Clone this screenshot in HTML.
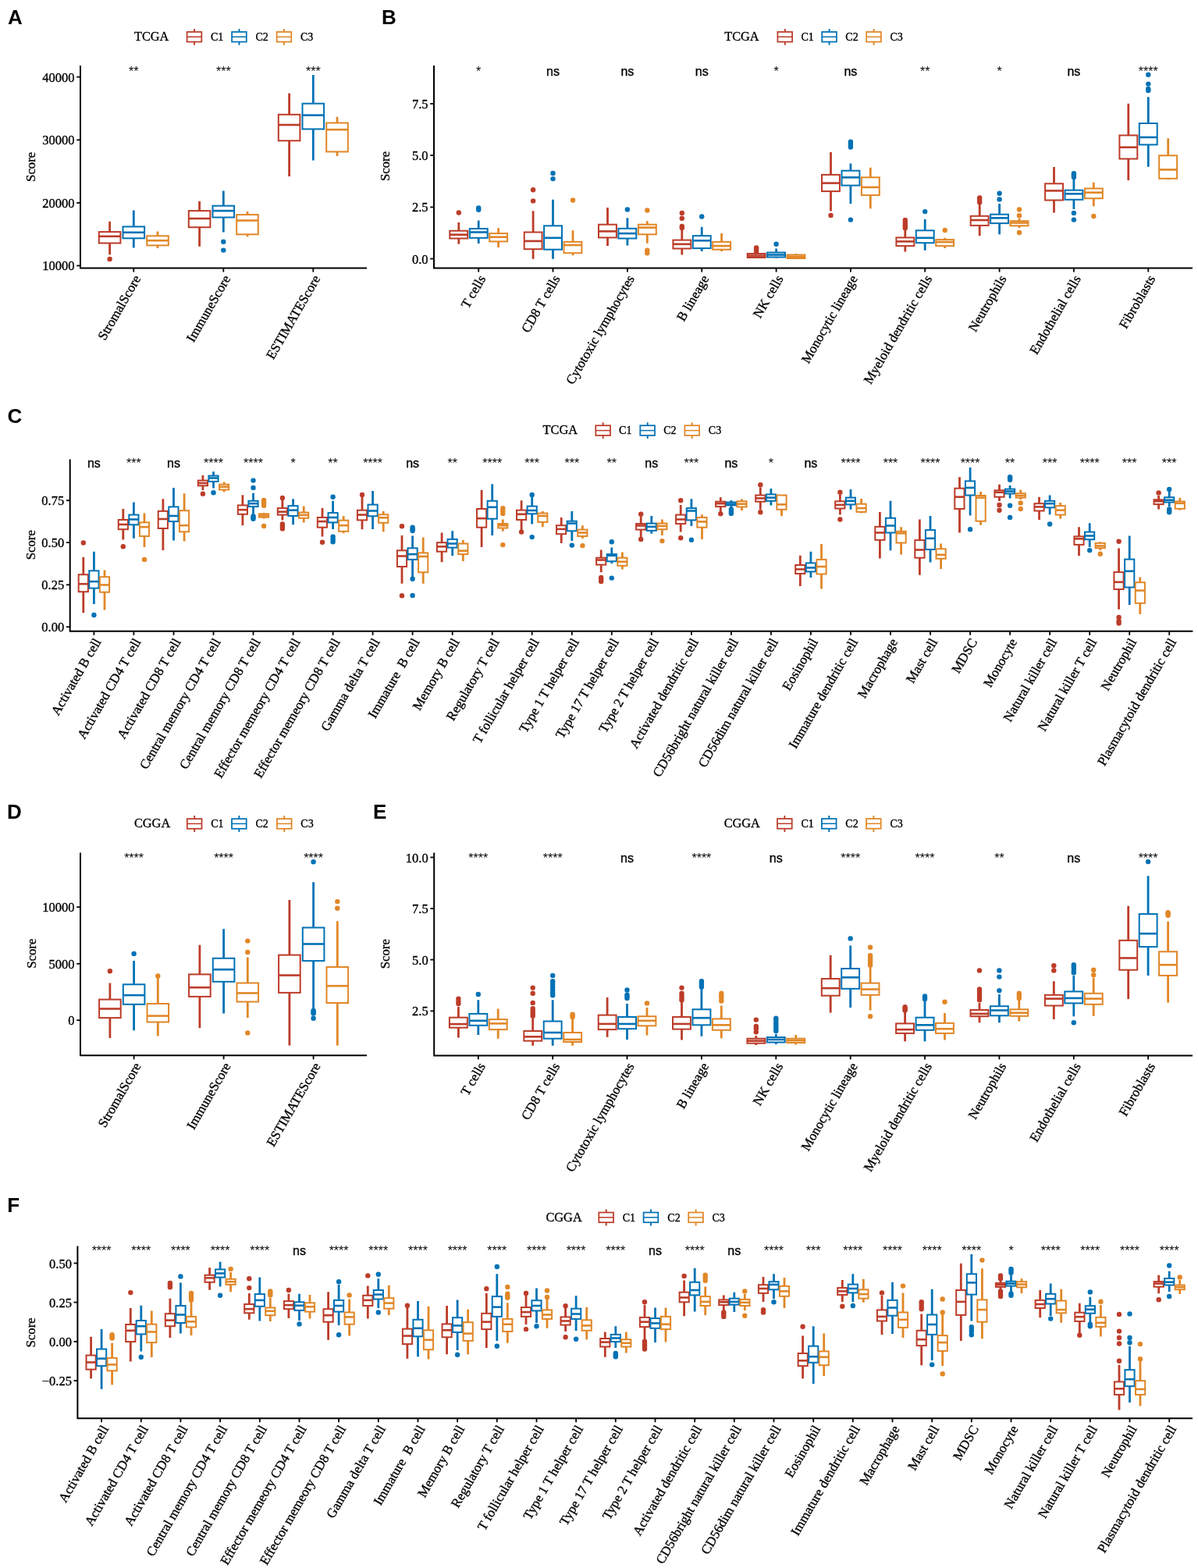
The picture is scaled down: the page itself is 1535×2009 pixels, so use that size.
<!DOCTYPE html><html><head><meta charset="utf-8"><style>html,body{margin:0;padding:0;background:#fff}svg{display:block}.k{stroke:#000;stroke-width:0.35px;paint-order:stroke}</style></head><body>
<svg width="1535" height="2009" viewBox="0 0 1535 2009">
<rect width="1535" height="2009" fill="#fff"/>
<text x="10" y="31.2" font-family="'Liberation Sans', Arial, sans-serif" font-weight="bold" font-size="26">A</text>
<text x="172" y="51.9" class="k" font-family="'Liberation Serif', 'Times New Roman', serif" font-size="16.3">TCGA</text><path d="M249 36.9V40.9M249 53.6V57.8" stroke="#BC3C29" stroke-width="1.9"/><rect x="239.6" y="40.9" width="18.7" height="12.7" stroke="#BC3C29" stroke-width="1.75" fill="#fff"/><path d="M239.6 47.2H258.3" stroke="#BC3C29" stroke-width="1.5"/><text x="270" y="51.9" class="k" font-family="'Liberation Serif', 'Times New Roman', serif" font-size="14">C1</text><path d="M306.5 36.9V40.9M306.5 53.6V57.8" stroke="#0072B5" stroke-width="1.9"/><rect x="297.1" y="40.9" width="18.7" height="12.7" stroke="#0072B5" stroke-width="1.75" fill="#fff"/><path d="M297.1 47.2H315.8" stroke="#0072B5" stroke-width="1.5"/><text x="327.5" y="51.9" class="k" font-family="'Liberation Serif', 'Times New Roman', serif" font-size="14">C2</text><path d="M364 36.9V40.9M364 53.6V57.8" stroke="#E18727" stroke-width="1.9"/><rect x="354.6" y="40.9" width="18.7" height="12.7" stroke="#E18727" stroke-width="1.75" fill="#fff"/><path d="M354.6 47.2H373.3" stroke="#E18727" stroke-width="1.5"/><text x="385" y="51.9" class="k" font-family="'Liberation Serif', 'Times New Roman', serif" font-size="14">C3</text>
<path d="M103 84V343.5H470" stroke="#000" stroke-width="2.0" fill="none"/>
<path d="M98.2 98.6H103" stroke="#000" stroke-width="1.8"/>
<text x="95.5" y="104.6" text-anchor="end" class="k" font-family="'Liberation Serif', 'Times New Roman', serif" font-size="16.5">40000</text>
<path d="M98.2 179.3H103" stroke="#000" stroke-width="1.8"/>
<text x="95.5" y="185.3" text-anchor="end" class="k" font-family="'Liberation Serif', 'Times New Roman', serif" font-size="16.5">30000</text>
<path d="M98.2 259.9H103" stroke="#000" stroke-width="1.8"/>
<text x="95.5" y="265.9" text-anchor="end" class="k" font-family="'Liberation Serif', 'Times New Roman', serif" font-size="16.5">20000</text>
<path d="M98.2 340.4H103" stroke="#000" stroke-width="1.8"/>
<text x="95.5" y="346.4" text-anchor="end" class="k" font-family="'Liberation Serif', 'Times New Roman', serif" font-size="16.5">10000</text>
<text transform="translate(45.4 213.8) rotate(-90)" text-anchor="middle" class="k" font-family="'Liberation Serif', 'Times New Roman', serif" font-size="16.8">Score</text>
<path d="M171.3 343.5V348.5" stroke="#000" stroke-width="1.8"/>
<text transform="translate(180.8 356.8) rotate(-60)" text-anchor="end" class="k" font-family="'Liberation Serif', 'Times New Roman', serif" font-size="17">StromalScore</text>
<text x="171.3" y="97" text-anchor="middle" font-family="'Liberation Sans', Arial, sans-serif" font-size="16">**</text>
<path d="M140.6 283.7V297.1M140.6 311.5V326.3" stroke="#BC3C29" stroke-width="2.8" fill="none"/><rect x="126.8" y="297.1" width="27.6" height="14.4" stroke="#BC3C29" stroke-width="2.0" fill="#fff"/><path d="M126.8 302.8H154.4" stroke="#BC3C29" stroke-width="2.6"/><circle cx="140.6" cy="332" r="3.2" fill="#BC3C29"/>
<path d="M171.3 269.4V290.4M171.3 305.3V317.6" stroke="#0072B5" stroke-width="2.8" fill="none"/><rect x="157.5" y="290.4" width="27.6" height="14.9" stroke="#0072B5" stroke-width="2.0" fill="#fff"/><path d="M157.5 297.8H185.1" stroke="#0072B5" stroke-width="2.6"/>
<path d="M202 296.6V302.3M202 314.4V318.1" stroke="#E18727" stroke-width="2.8" fill="none"/><rect x="188.2" y="302.3" width="27.6" height="12.1" stroke="#E18727" stroke-width="2.0" fill="#fff"/><path d="M188.2 308.2H215.8" stroke="#E18727" stroke-width="2.6"/>
<path d="M286.3 343.5V348.5" stroke="#000" stroke-width="1.8"/>
<text transform="translate(295.8 356.8) rotate(-60)" text-anchor="end" class="k" font-family="'Liberation Serif', 'Times New Roman', serif" font-size="17">ImmuneScore</text>
<text x="286.3" y="97" text-anchor="middle" font-family="'Liberation Sans', Arial, sans-serif" font-size="16">***</text>
<path d="M255.6 257.7V270.1M255.6 291.2V315.7" stroke="#BC3C29" stroke-width="2.8" fill="none"/><rect x="241.8" y="270.1" width="27.6" height="21.1" stroke="#BC3C29" stroke-width="2.0" fill="#fff"/><path d="M241.8 280H269.4" stroke="#BC3C29" stroke-width="2.6"/>
<path d="M286.3 244.6V263.7M286.3 278.5V297.4" stroke="#0072B5" stroke-width="2.8" fill="none"/><rect x="272.5" y="263.7" width="27.6" height="14.8" stroke="#0072B5" stroke-width="2.0" fill="#fff"/><path d="M272.5 270.1H300.1" stroke="#0072B5" stroke-width="2.6"/><circle cx="286.3" cy="309.7" r="3.2" fill="#0072B5"/><circle cx="286.3" cy="320.6" r="3.2" fill="#0072B5"/>
<path d="M317 271.1V275.1M317 300.3V303.3" stroke="#E18727" stroke-width="2.8" fill="none"/><rect x="303.2" y="275.1" width="27.6" height="25.2" stroke="#E18727" stroke-width="2.0" fill="#fff"/><path d="M303.2 282.5H330.8" stroke="#E18727" stroke-width="2.6"/>
<path d="M401.3 343.5V348.5" stroke="#000" stroke-width="1.8"/>
<text transform="translate(410.8 356.8) rotate(-60)" text-anchor="end" class="k" font-family="'Liberation Serif', 'Times New Roman', serif" font-size="17">ESTIMATEScore</text>
<text x="401.3" y="97" text-anchor="middle" font-family="'Liberation Sans', Arial, sans-serif" font-size="16">***</text>
<path d="M370.6 119.6V146.8M370.6 180.3V226.1" stroke="#BC3C29" stroke-width="2.8" fill="none"/><rect x="356.8" y="146.8" width="27.6" height="33.5" stroke="#BC3C29" stroke-width="2.0" fill="#fff"/><path d="M356.8 160H384.4" stroke="#BC3C29" stroke-width="2.6"/>
<path d="M401.3 96.1V132.7M401.3 165.4V205.5" stroke="#0072B5" stroke-width="2.8" fill="none"/><rect x="387.5" y="132.7" width="27.6" height="32.7" stroke="#0072B5" stroke-width="2.0" fill="#fff"/><path d="M387.5 147.6H415.1" stroke="#0072B5" stroke-width="2.6"/>
<path d="M432 149.8V157.5M432 194.4V200" stroke="#E18727" stroke-width="2.8" fill="none"/><rect x="418.2" y="157.5" width="27.6" height="36.9" stroke="#E18727" stroke-width="2.0" fill="#fff"/><path d="M418.2 166.1H445.8" stroke="#E18727" stroke-width="2.6"/>
<text x="489" y="31.2" font-family="'Liberation Sans', Arial, sans-serif" font-weight="bold" font-size="26">B</text>
<text x="928.3" y="51.9" class="k" font-family="'Liberation Serif', 'Times New Roman', serif" font-size="16.3">TCGA</text><path d="M1005.8 36.9V40.9M1005.8 53.6V57.8" stroke="#BC3C29" stroke-width="1.9"/><rect x="996.4" y="40.9" width="18.7" height="12.7" stroke="#BC3C29" stroke-width="1.75" fill="#fff"/><path d="M996.4 47.2H1015.0999999999999" stroke="#BC3C29" stroke-width="1.5"/><text x="1026.4" y="51.9" class="k" font-family="'Liberation Serif', 'Times New Roman', serif" font-size="14">C1</text><path d="M1062.6 36.9V40.9M1062.6 53.6V57.8" stroke="#0072B5" stroke-width="1.9"/><rect x="1053.1999999999998" y="40.9" width="18.7" height="12.7" stroke="#0072B5" stroke-width="1.75" fill="#fff"/><path d="M1053.1999999999998 47.2H1071.8999999999999" stroke="#0072B5" stroke-width="1.5"/><text x="1083.3" y="51.9" class="k" font-family="'Liberation Serif', 'Times New Roman', serif" font-size="14">C2</text><path d="M1119.6 36.9V40.9M1119.6 53.6V57.8" stroke="#E18727" stroke-width="1.9"/><rect x="1110.1999999999998" y="40.9" width="18.7" height="12.7" stroke="#E18727" stroke-width="1.75" fill="#fff"/><path d="M1110.1999999999998 47.2H1128.8999999999999" stroke="#E18727" stroke-width="1.5"/><text x="1140.4" y="51.9" class="k" font-family="'Liberation Serif', 'Times New Roman', serif" font-size="14">C3</text>
<path d="M556 84V343.5H1528" stroke="#000" stroke-width="2.0" fill="none"/>
<path d="M551.2 132.9H556" stroke="#000" stroke-width="1.8"/>
<text x="548.5" y="138.9" text-anchor="end" class="k" font-family="'Liberation Serif', 'Times New Roman', serif" font-size="16.5">7.5</text>
<path d="M551.2 199H556" stroke="#000" stroke-width="1.8"/>
<text x="548.5" y="205" text-anchor="end" class="k" font-family="'Liberation Serif', 'Times New Roman', serif" font-size="16.5">5.0</text>
<path d="M551.2 265.4H556" stroke="#000" stroke-width="1.8"/>
<text x="548.5" y="271.4" text-anchor="end" class="k" font-family="'Liberation Serif', 'Times New Roman', serif" font-size="16.5">2.5</text>
<path d="M551.2 331.5H556" stroke="#000" stroke-width="1.8"/>
<text x="548.5" y="337.5" text-anchor="end" class="k" font-family="'Liberation Serif', 'Times New Roman', serif" font-size="16.5">0.0</text>
<text transform="translate(498.8 213) rotate(-90)" text-anchor="middle" class="k" font-family="'Liberation Serif', 'Times New Roman', serif" font-size="16.8">Score</text>
<path d="M613.2 343.5V348.5" stroke="#000" stroke-width="1.8"/>
<text transform="translate(622.7 356.8) rotate(-60)" text-anchor="end" class="k" font-family="'Liberation Serif', 'Times New Roman', serif" font-size="17">T cells</text>
<text x="613.2" y="96.5" text-anchor="middle" font-family="'Liberation Sans', Arial, sans-serif" font-size="16">*</text>
<path d="M587.8 285V295.7M587.8 305.5V312.8" stroke="#BC3C29" stroke-width="2.8" fill="none"/><rect x="576.3" y="295.7" width="22.9" height="9.8" stroke="#BC3C29" stroke-width="2.0" fill="#fff"/><path d="M576.3 300.7H599.2" stroke="#BC3C29" stroke-width="2.6"/><circle cx="587.8" cy="272.5" r="3.2" fill="#BC3C29"/>
<path d="M613.2 282.5V293M613.2 304.8V312" stroke="#0072B5" stroke-width="2.8" fill="none"/><rect x="601.8" y="293" width="22.9" height="11.8" stroke="#0072B5" stroke-width="2.0" fill="#fff"/><path d="M601.8 297.5H624.6" stroke="#0072B5" stroke-width="2.6"/><circle cx="613.2" cy="266.5" r="3.2" fill="#0072B5"/><circle cx="613.2" cy="268.8" r="3.2" fill="#0072B5"/>
<path d="M638.6 292.3V299.1M638.6 309.4V317" stroke="#E18727" stroke-width="2.8" fill="none"/><rect x="627.2" y="299.1" width="22.9" height="10.3" stroke="#E18727" stroke-width="2.0" fill="#fff"/><path d="M627.2 303.7H650.1" stroke="#E18727" stroke-width="2.6"/>
<path d="M708.5 343.5V348.5" stroke="#000" stroke-width="1.8"/>
<text transform="translate(718 356.8) rotate(-60)" text-anchor="end" class="k" font-family="'Liberation Serif', 'Times New Roman', serif" font-size="17">CD8 T cells</text>
<text class="k" x="708.5" y="96.5" text-anchor="middle" font-family="'Liberation Sans', Arial, sans-serif" font-size="16">ns</text>
<path d="M683.1 270.2V297.5M683.1 319.2V331.7" stroke="#BC3C29" stroke-width="2.8" fill="none"/><rect x="671.7" y="297.5" width="22.9" height="21.7" stroke="#BC3C29" stroke-width="2.0" fill="#fff"/><path d="M671.7 308.9H694.6" stroke="#BC3C29" stroke-width="2.6"/><circle cx="683.1" cy="243.3" r="3.2" fill="#BC3C29"/><circle cx="683.1" cy="257.4" r="3.2" fill="#BC3C29"/>
<path d="M708.5 255.8V289.3M708.5 319.7V331.7" stroke="#0072B5" stroke-width="2.8" fill="none"/><rect x="697.1" y="289.3" width="22.9" height="30.4" stroke="#0072B5" stroke-width="2.0" fill="#fff"/><path d="M697.1 304.8H720" stroke="#0072B5" stroke-width="2.6"/><circle cx="708.5" cy="222" r="3.2" fill="#0072B5"/><circle cx="708.5" cy="229.1" r="3.2" fill="#0072B5"/>
<path d="M734 295.3V309.9M734 324.2V327.2" stroke="#E18727" stroke-width="2.8" fill="none"/><rect x="722.5" y="309.9" width="22.9" height="14.3" stroke="#E18727" stroke-width="2.0" fill="#fff"/><path d="M722.5 314H745.4" stroke="#E18727" stroke-width="2.6"/><circle cx="734" cy="256.5" r="3.2" fill="#E18727"/>
<path d="M803.9 343.5V348.5" stroke="#000" stroke-width="1.8"/>
<text transform="translate(813.4 356.8) rotate(-60)" text-anchor="end" class="k" font-family="'Liberation Serif', 'Times New Roman', serif" font-size="17">Cytotoxic lymphocytes</text>
<text class="k" x="803.9" y="96.5" text-anchor="middle" font-family="'Liberation Sans', Arial, sans-serif" font-size="16">ns</text>
<path d="M778.5 266.1V287.7M778.5 304.4V315.1" stroke="#BC3C29" stroke-width="2.8" fill="none"/><rect x="767" y="287.7" width="22.9" height="16.7" stroke="#BC3C29" stroke-width="2.0" fill="#fff"/><path d="M767 296.4H789.9" stroke="#BC3C29" stroke-width="2.6"/>
<path d="M803.9 279.3V292.8M803.9 305.5V314.4" stroke="#0072B5" stroke-width="2.8" fill="none"/><rect x="792.4" y="292.8" width="22.9" height="12.7" stroke="#0072B5" stroke-width="2.0" fill="#fff"/><path d="M792.4 299.1H815.3" stroke="#0072B5" stroke-width="2.6"/><circle cx="803.9" cy="268.4" r="3.2" fill="#0072B5"/>
<path d="M829.3 283.2V287.7M829.3 300.3V311.7" stroke="#E18727" stroke-width="2.8" fill="none"/><rect x="817.9" y="287.7" width="22.9" height="12.6" stroke="#E18727" stroke-width="2.0" fill="#fff"/><path d="M817.9 291.6H840.7" stroke="#E18727" stroke-width="2.6"/><circle cx="829.3" cy="269.5" r="3.2" fill="#E18727"/><circle cx="829.3" cy="320.8" r="3.2" fill="#E18727"/><circle cx="829.3" cy="324.2" r="3.2" fill="#E18727"/>
<path d="M899.2 343.5V348.5" stroke="#000" stroke-width="1.8"/>
<text transform="translate(908.7 356.8) rotate(-60)" text-anchor="end" class="k" font-family="'Liberation Serif', 'Times New Roman', serif" font-size="17">B lineage</text>
<text class="k" x="899.2" y="96.5" text-anchor="middle" font-family="'Liberation Sans', Arial, sans-serif" font-size="16">ns</text>
<path d="M873.8 294.6V307.6M873.8 318.5V326.5" stroke="#BC3C29" stroke-width="2.8" fill="none"/><rect x="862.4" y="307.6" width="22.9" height="10.9" stroke="#BC3C29" stroke-width="2.0" fill="#fff"/><path d="M862.4 312.8H885.2" stroke="#BC3C29" stroke-width="2.6"/><circle cx="873.8" cy="272.9" r="3.2" fill="#BC3C29"/><circle cx="873.8" cy="279.8" r="3.2" fill="#BC3C29"/><circle cx="873.8" cy="290" r="3.2" fill="#BC3C29"/><circle cx="873.8" cy="292" r="3.2" fill="#BC3C29"/>
<path d="M899.2 290.7V302.1M899.2 318.1V322" stroke="#0072B5" stroke-width="2.8" fill="none"/><rect x="887.8" y="302.1" width="22.9" height="16" stroke="#0072B5" stroke-width="2.0" fill="#fff"/><path d="M887.8 308.3H910.7" stroke="#0072B5" stroke-width="2.6"/><circle cx="899.2" cy="277.5" r="3.2" fill="#0072B5"/>
<path d="M924.6 299.1V309.9M924.6 319.7V322" stroke="#E18727" stroke-width="2.8" fill="none"/><rect x="913.2" y="309.9" width="22.9" height="9.8" stroke="#E18727" stroke-width="2.0" fill="#fff"/><path d="M913.2 315.1H936.1" stroke="#E18727" stroke-width="2.6"/>
<path d="M994.6 343.5V348.5" stroke="#000" stroke-width="1.8"/>
<text transform="translate(1004.1 356.8) rotate(-60)" text-anchor="end" class="k" font-family="'Liberation Serif', 'Times New Roman', serif" font-size="17">NK cells</text>
<text x="994.6" y="96.5" text-anchor="middle" font-family="'Liberation Sans', Arial, sans-serif" font-size="16">*</text>
<path d="M969.1 323.5V325M969.1 330V331" stroke="#BC3C29" stroke-width="2.8" fill="none"/><rect x="957.7" y="325" width="22.9" height="5" stroke="#BC3C29" stroke-width="2.0" fill="#fff"/><path d="M957.7 327.6H980.6" stroke="#BC3C29" stroke-width="2.6"/><circle cx="969.1" cy="317.4" r="3.2" fill="#BC3C29"/><circle cx="969.1" cy="319.5" r="3.2" fill="#BC3C29"/><circle cx="969.1" cy="322" r="3.2" fill="#BC3C29"/>
<path d="M994.6 318.5V323.5M994.6 329.5V330.5" stroke="#0072B5" stroke-width="2.8" fill="none"/><rect x="983.1" y="323.5" width="22.9" height="6" stroke="#0072B5" stroke-width="2.0" fill="#fff"/><path d="M983.1 326.5H1006" stroke="#0072B5" stroke-width="2.6"/><circle cx="994.6" cy="312.8" r="3.2" fill="#0072B5"/>
<path d="M1020 324.9V326.5M1020 331V331.5" stroke="#E18727" stroke-width="2.8" fill="none"/><rect x="1008.5" y="326.5" width="22.9" height="4.5" stroke="#E18727" stroke-width="2.0" fill="#fff"/><path d="M1008.5 328.8H1031.4" stroke="#E18727" stroke-width="2.6"/>
<path d="M1089.9 343.5V348.5" stroke="#000" stroke-width="1.8"/>
<text transform="translate(1099.4 356.8) rotate(-60)" text-anchor="end" class="k" font-family="'Liberation Serif', 'Times New Roman', serif" font-size="17">Monocytic lineage</text>
<text class="k" x="1089.9" y="96.5" text-anchor="middle" font-family="'Liberation Sans', Arial, sans-serif" font-size="16">ns</text>
<path d="M1064.5 194.9V223.9M1064.5 245.1V270.6" stroke="#BC3C29" stroke-width="2.8" fill="none"/><rect x="1053" y="223.9" width="22.9" height="21.2" stroke="#BC3C29" stroke-width="2.0" fill="#fff"/><path d="M1053 234.6H1075.9" stroke="#BC3C29" stroke-width="2.6"/><circle cx="1064.5" cy="275.9" r="3.2" fill="#BC3C29"/>
<path d="M1089.9 209.5V218.7M1089.9 237.6V261.1" stroke="#0072B5" stroke-width="2.8" fill="none"/><rect x="1078.5" y="218.7" width="22.9" height="18.9" stroke="#0072B5" stroke-width="2.0" fill="#fff"/><path d="M1078.5 227.3H1101.3" stroke="#0072B5" stroke-width="2.6"/><circle cx="1089.9" cy="181.7" r="3.2" fill="#0072B5"/><circle cx="1089.9" cy="184" r="3.2" fill="#0072B5"/><circle cx="1089.9" cy="186" r="3.2" fill="#0072B5"/><circle cx="1089.9" cy="188.6" r="3.2" fill="#0072B5"/><circle cx="1089.9" cy="281.6" r="3.2" fill="#0072B5"/>
<path d="M1115.3 214.8V227.3M1115.3 250.1V267.2" stroke="#E18727" stroke-width="2.8" fill="none"/><rect x="1103.9" y="227.3" width="22.9" height="22.8" stroke="#E18727" stroke-width="2.0" fill="#fff"/><path d="M1103.9 239.9H1126.8" stroke="#E18727" stroke-width="2.6"/>
<path d="M1185.2 343.5V348.5" stroke="#000" stroke-width="1.8"/>
<text transform="translate(1194.7 356.8) rotate(-60)" text-anchor="end" class="k" font-family="'Liberation Serif', 'Times New Roman', serif" font-size="17">Myeloid dendritic cells</text>
<text x="1185.2" y="96.5" text-anchor="middle" font-family="'Liberation Sans', Arial, sans-serif" font-size="16">**</text>
<path d="M1159.8 294V304.4M1159.8 315.1V322.6" stroke="#BC3C29" stroke-width="2.8" fill="none"/><rect x="1148.4" y="304.4" width="22.9" height="10.7" stroke="#BC3C29" stroke-width="2.0" fill="#fff"/><path d="M1148.4 309.4H1171.3" stroke="#BC3C29" stroke-width="2.6"/><circle cx="1159.8" cy="282" r="3.2" fill="#BC3C29"/><circle cx="1159.8" cy="285" r="3.2" fill="#BC3C29"/><circle cx="1159.8" cy="288" r="3.2" fill="#BC3C29"/><circle cx="1159.8" cy="290" r="3.2" fill="#BC3C29"/><circle cx="1159.8" cy="292.3" r="3.2" fill="#BC3C29"/>
<path d="M1185.2 280.9V295.3M1185.2 311.2V320.8" stroke="#0072B5" stroke-width="2.8" fill="none"/><rect x="1173.8" y="295.3" width="22.9" height="15.9" stroke="#0072B5" stroke-width="2.0" fill="#fff"/><path d="M1173.8 304.8H1196.7" stroke="#0072B5" stroke-width="2.6"/><circle cx="1185.2" cy="271.1" r="3.2" fill="#0072B5"/>
<path d="M1210.7 304.8V307.1M1210.7 315.1V318" stroke="#E18727" stroke-width="2.8" fill="none"/><rect x="1199.2" y="307.1" width="22.9" height="8" stroke="#E18727" stroke-width="2.0" fill="#fff"/><path d="M1199.2 310.1H1222.1" stroke="#E18727" stroke-width="2.6"/><circle cx="1210.7" cy="295" r="3.2" fill="#E18727"/>
<path d="M1280.6 343.5V348.5" stroke="#000" stroke-width="1.8"/>
<text transform="translate(1290.1 356.8) rotate(-60)" text-anchor="end" class="k" font-family="'Liberation Serif', 'Times New Roman', serif" font-size="17">Neutrophils</text>
<text x="1280.6" y="96.5" text-anchor="middle" font-family="'Liberation Sans', Arial, sans-serif" font-size="16">*</text>
<path d="M1255.2 261.5V276.8M1255.2 288.9V302.1" stroke="#BC3C29" stroke-width="2.8" fill="none"/><rect x="1243.7" y="276.8" width="22.9" height="12.1" stroke="#BC3C29" stroke-width="2.0" fill="#fff"/><path d="M1243.7 282H1266.6" stroke="#BC3C29" stroke-width="2.6"/><circle cx="1255.2" cy="253.5" r="3.2" fill="#BC3C29"/><circle cx="1255.2" cy="256" r="3.2" fill="#BC3C29"/><circle cx="1255.2" cy="259.2" r="3.2" fill="#BC3C29"/>
<path d="M1280.6 261.1V274.7M1280.6 286.1V300.3" stroke="#0072B5" stroke-width="2.8" fill="none"/><rect x="1269.1" y="274.7" width="22.9" height="11.4" stroke="#0072B5" stroke-width="2.0" fill="#fff"/><path d="M1269.1 279.3H1292" stroke="#0072B5" stroke-width="2.6"/><circle cx="1280.6" cy="247.8" r="3.2" fill="#0072B5"/><circle cx="1280.6" cy="255.4" r="3.2" fill="#0072B5"/>
<path d="M1306 280V283.2M1306 289.3V292" stroke="#E18727" stroke-width="2.8" fill="none"/><rect x="1294.6" y="283.2" width="22.9" height="6.1" stroke="#E18727" stroke-width="2.0" fill="#fff"/><path d="M1294.6 285.5H1317.4" stroke="#E18727" stroke-width="2.6"/><circle cx="1306" cy="268.4" r="3.2" fill="#E18727"/><circle cx="1306" cy="276.3" r="3.2" fill="#E18727"/><circle cx="1306" cy="298" r="3.2" fill="#E18727"/>
<path d="M1375.9 343.5V348.5" stroke="#000" stroke-width="1.8"/>
<text transform="translate(1385.4 356.8) rotate(-60)" text-anchor="end" class="k" font-family="'Liberation Serif', 'Times New Roman', serif" font-size="17">Endothelial cells</text>
<text class="k" x="1375.9" y="96.5" text-anchor="middle" font-family="'Liberation Sans', Arial, sans-serif" font-size="16">ns</text>
<path d="M1350.5 214.1V235.3M1350.5 256.5V272.5" stroke="#BC3C29" stroke-width="2.8" fill="none"/><rect x="1339.1" y="235.3" width="22.9" height="21.2" stroke="#BC3C29" stroke-width="2.0" fill="#fff"/><path d="M1339.1 244.4H1361.9" stroke="#BC3C29" stroke-width="2.6"/>
<path d="M1375.9 230V243.7M1375.9 255.8V268" stroke="#0072B5" stroke-width="2.8" fill="none"/><rect x="1364.5" y="243.7" width="22.9" height="12.1" stroke="#0072B5" stroke-width="2.0" fill="#fff"/><path d="M1364.5 248.3H1387.4" stroke="#0072B5" stroke-width="2.6"/><circle cx="1375.9" cy="222.3" r="3.2" fill="#0072B5"/><circle cx="1375.9" cy="224.5" r="3.2" fill="#0072B5"/><circle cx="1375.9" cy="226.9" r="3.2" fill="#0072B5"/><circle cx="1375.9" cy="272.9" r="3.2" fill="#0072B5"/><circle cx="1375.9" cy="281.6" r="3.2" fill="#0072B5"/>
<path d="M1401.3 233.7V241.5M1401.3 254.2V264.3" stroke="#E18727" stroke-width="2.8" fill="none"/><rect x="1389.9" y="241.5" width="22.9" height="12.7" stroke="#E18727" stroke-width="2.0" fill="#fff"/><path d="M1389.9 246.7H1412.8" stroke="#E18727" stroke-width="2.6"/><circle cx="1401.3" cy="277" r="3.2" fill="#E18727"/>
<path d="M1471.3 343.5V348.5" stroke="#000" stroke-width="1.8"/>
<text transform="translate(1480.8 356.8) rotate(-60)" text-anchor="end" class="k" font-family="'Liberation Serif', 'Times New Roman', serif" font-size="17">Fibroblasts</text>
<text x="1471.3" y="96.5" text-anchor="middle" font-family="'Liberation Sans', Arial, sans-serif" font-size="16">****</text>
<path d="M1445.8 132.7V173.4M1445.8 203.5V230.9" stroke="#BC3C29" stroke-width="2.8" fill="none"/><rect x="1434.4" y="173.4" width="22.9" height="30.1" stroke="#BC3C29" stroke-width="2.0" fill="#fff"/><path d="M1434.4 188.7H1457.3" stroke="#BC3C29" stroke-width="2.6"/>
<path d="M1471.3 124.3V158M1471.3 185.4V213.8" stroke="#0072B5" stroke-width="2.8" fill="none"/><rect x="1459.8" y="158" width="22.9" height="27.4" stroke="#0072B5" stroke-width="2.0" fill="#fff"/><path d="M1459.8 175.9H1482.7" stroke="#0072B5" stroke-width="2.6"/><circle cx="1471.3" cy="95.8" r="3.2" fill="#0072B5"/><circle cx="1471.3" cy="107.6" r="3.2" fill="#0072B5"/><circle cx="1471.3" cy="114" r="3.2" fill="#0072B5"/><circle cx="1471.3" cy="116" r="3.2" fill="#0072B5"/>
<path d="M1496.7 177.3V199.3M1496.7 228.8V230.2" stroke="#E18727" stroke-width="2.8" fill="none"/><rect x="1485.2" y="199.3" width="22.9" height="29.5" stroke="#E18727" stroke-width="2.0" fill="#fff"/><path d="M1485.2 217.4H1508.1" stroke="#E18727" stroke-width="2.6"/>
<text x="9.6" y="541.5" font-family="'Liberation Sans', Arial, sans-serif" font-weight="bold" font-size="26">C</text>
<text x="695.6" y="556.2" class="k" font-family="'Liberation Serif', 'Times New Roman', serif" font-size="16.3">TCGA</text><path d="M772.7 541.2V545.2M772.7 557.9V562.1" stroke="#BC3C29" stroke-width="1.9"/><rect x="763.3000000000001" y="545.2" width="18.7" height="12.7" stroke="#BC3C29" stroke-width="1.75" fill="#fff"/><path d="M763.3000000000001 551.6H782.0" stroke="#BC3C29" stroke-width="1.5"/><text x="793.1" y="556.2" class="k" font-family="'Liberation Serif', 'Times New Roman', serif" font-size="14">C1</text><path d="M829.7 541.2V545.2M829.7 557.9V562.1" stroke="#0072B5" stroke-width="1.9"/><rect x="820.3000000000001" y="545.2" width="18.7" height="12.7" stroke="#0072B5" stroke-width="1.75" fill="#fff"/><path d="M820.3000000000001 551.6H839.0" stroke="#0072B5" stroke-width="1.5"/><text x="850.2" y="556.2" class="k" font-family="'Liberation Serif', 'Times New Roman', serif" font-size="14">C2</text><path d="M886.8 541.2V545.2M886.8 557.9V562.1" stroke="#E18727" stroke-width="1.9"/><rect x="877.4" y="545.2" width="18.7" height="12.7" stroke="#E18727" stroke-width="1.75" fill="#fff"/><path d="M877.4 551.6H896.0999999999999" stroke="#E18727" stroke-width="1.5"/><text x="907.8" y="556.2" class="k" font-family="'Liberation Serif', 'Times New Roman', serif" font-size="14">C3</text>
<path d="M89.7 588.4V808.8H1528.4" stroke="#000" stroke-width="2.0" fill="none"/>
<path d="M84.9 641.2H89.7" stroke="#000" stroke-width="1.8"/>
<text x="82.2" y="647.2" text-anchor="end" class="k" font-family="'Liberation Serif', 'Times New Roman', serif" font-size="16.5">0.75</text>
<path d="M84.9 695.1H89.7" stroke="#000" stroke-width="1.8"/>
<text x="82.2" y="701.1" text-anchor="end" class="k" font-family="'Liberation Serif', 'Times New Roman', serif" font-size="16.5">0.50</text>
<path d="M84.9 749.3H89.7" stroke="#000" stroke-width="1.8"/>
<text x="82.2" y="755.3" text-anchor="end" class="k" font-family="'Liberation Serif', 'Times New Roman', serif" font-size="16.5">0.25</text>
<path d="M84.9 803.2H89.7" stroke="#000" stroke-width="1.8"/>
<text x="82.2" y="809.2" text-anchor="end" class="k" font-family="'Liberation Serif', 'Times New Roman', serif" font-size="16.5">0.00</text>
<text transform="translate(45.1 698.2) rotate(-90)" text-anchor="middle" class="k" font-family="'Liberation Serif', 'Times New Roman', serif" font-size="16.8">Score</text>
<path d="M120.4 808.8V813.8" stroke="#000" stroke-width="1.8"/>
<text transform="translate(129.9 822.1) rotate(-60)" text-anchor="end" class="k" font-family="'Liberation Serif', 'Times New Roman', serif" font-size="17">Activated B cell</text>
<text class="k" x="120.4" y="599.3" text-anchor="middle" font-family="'Liberation Sans', Arial, sans-serif" font-size="16">ns</text>
<path d="M106.8 713.8V736.2M106.8 758.2V785.3" stroke="#BC3C29" stroke-width="2.8" fill="none"/><rect x="100.7" y="736.2" width="12.2" height="22" stroke="#BC3C29" stroke-width="2.0" fill="#fff"/><path d="M100.7 748.2H112.9" stroke="#BC3C29" stroke-width="2.6"/><circle cx="106.8" cy="695.5" r="3.2" fill="#BC3C29"/>
<path d="M120.4 706.7V731.3M120.4 753.6V773.9" stroke="#0072B5" stroke-width="2.8" fill="none"/><rect x="114.3" y="731.3" width="12.2" height="22.3" stroke="#0072B5" stroke-width="2.0" fill="#fff"/><path d="M114.3 745.1H126.5" stroke="#0072B5" stroke-width="2.6"/><circle cx="120.4" cy="788" r="3.2" fill="#0072B5"/>
<path d="M134 730.4V739.2M134 758.7V781.6" stroke="#E18727" stroke-width="2.8" fill="none"/><rect x="127.9" y="739.2" width="12.2" height="19.5" stroke="#E18727" stroke-width="2.0" fill="#fff"/><path d="M127.9 749.4H140.1" stroke="#E18727" stroke-width="2.6"/>
<path d="M171.4 808.8V813.8" stroke="#000" stroke-width="1.8"/>
<text transform="translate(180.9 822.1) rotate(-60)" text-anchor="end" class="k" font-family="'Liberation Serif', 'Times New Roman', serif" font-size="17">Activated CD4 T cell</text>
<text x="171.4" y="599.3" text-anchor="middle" font-family="'Liberation Sans', Arial, sans-serif" font-size="16">***</text>
<path d="M157.8 652V666M157.8 678.2V691.5" stroke="#BC3C29" stroke-width="2.8" fill="none"/><rect x="151.7" y="666" width="12.2" height="12.2" stroke="#BC3C29" stroke-width="2.0" fill="#fff"/><path d="M151.7 672H163.9" stroke="#BC3C29" stroke-width="2.6"/><circle cx="157.8" cy="700.3" r="3.2" fill="#BC3C29"/>
<path d="M171.4 643.5V659.6M171.4 672.3V689.8" stroke="#0072B5" stroke-width="2.8" fill="none"/><rect x="165.3" y="659.6" width="12.2" height="12.7" stroke="#0072B5" stroke-width="2.0" fill="#fff"/><path d="M165.3 665.5H177.6" stroke="#0072B5" stroke-width="2.6"/>
<path d="M185 657.6V669.4M185 687V701.1" stroke="#E18727" stroke-width="2.8" fill="none"/><rect x="178.9" y="669.4" width="12.2" height="17.6" stroke="#E18727" stroke-width="2.0" fill="#fff"/><path d="M178.9 675.2H191.2" stroke="#E18727" stroke-width="2.6"/><circle cx="185" cy="716.9" r="3.2" fill="#E18727"/>
<path d="M222.5 808.8V813.8" stroke="#000" stroke-width="1.8"/>
<text transform="translate(232 822.1) rotate(-60)" text-anchor="end" class="k" font-family="'Liberation Serif', 'Times New Roman', serif" font-size="17">Activated CD8 T cell</text>
<text class="k" x="222.5" y="599.3" text-anchor="middle" font-family="'Liberation Sans', Arial, sans-serif" font-size="16">ns</text>
<path d="M208.9 639.3V654.9M208.9 677V705" stroke="#BC3C29" stroke-width="2.8" fill="none"/><rect x="202.7" y="654.9" width="12.2" height="22.1" stroke="#BC3C29" stroke-width="2.0" fill="#fff"/><path d="M202.7 665H215" stroke="#BC3C29" stroke-width="2.6"/>
<path d="M222.5 624.9V649.4M222.5 668.1V692.6" stroke="#0072B5" stroke-width="2.8" fill="none"/><rect x="216.3" y="649.4" width="12.2" height="18.7" stroke="#0072B5" stroke-width="2.0" fill="#fff"/><path d="M216.3 661H228.6" stroke="#0072B5" stroke-width="2.6"/>
<path d="M236.1 632.2V654.2M236.1 681.3V693.5" stroke="#E18727" stroke-width="2.8" fill="none"/><rect x="229.9" y="654.2" width="12.2" height="27.1" stroke="#E18727" stroke-width="2.0" fill="#fff"/><path d="M229.9 673.2H242.2" stroke="#E18727" stroke-width="2.6"/>
<path d="M273.5 808.8V813.8" stroke="#000" stroke-width="1.8"/>
<text transform="translate(283 822.1) rotate(-60)" text-anchor="end" class="k" font-family="'Liberation Serif', 'Times New Roman', serif" font-size="17">Central memory CD4 T cell</text>
<text x="273.5" y="599.3" text-anchor="middle" font-family="'Liberation Sans', Arial, sans-serif" font-size="16">****</text>
<path d="M259.9 609.1V615.6M259.9 622.3V628" stroke="#BC3C29" stroke-width="2.8" fill="none"/><rect x="253.8" y="615.6" width="12.2" height="6.7" stroke="#BC3C29" stroke-width="2.0" fill="#fff"/><path d="M253.8 619H266" stroke="#BC3C29" stroke-width="2.6"/><circle cx="259.9" cy="632.8" r="3.2" fill="#BC3C29"/>
<path d="M273.5 604.2V609.6M273.5 616.9V625.4" stroke="#0072B5" stroke-width="2.8" fill="none"/><rect x="267.4" y="609.6" width="12.2" height="7.3" stroke="#0072B5" stroke-width="2.0" fill="#fff"/><path d="M267.4 612.5H279.6" stroke="#0072B5" stroke-width="2.6"/><circle cx="273.5" cy="631.2" r="3.2" fill="#0072B5"/>
<path d="M287.1 617.6V620.7M287.1 627.4V630.5" stroke="#E18727" stroke-width="2.8" fill="none"/><rect x="281" y="620.7" width="12.2" height="6.7" stroke="#E18727" stroke-width="2.0" fill="#fff"/><path d="M281 623.7H293.2" stroke="#E18727" stroke-width="2.6"/>
<path d="M324.5 808.8V813.8" stroke="#000" stroke-width="1.8"/>
<text transform="translate(334 822.1) rotate(-60)" text-anchor="end" class="k" font-family="'Liberation Serif', 'Times New Roman', serif" font-size="17">Central memory CD8 T cell</text>
<text x="324.5" y="599.3" text-anchor="middle" font-family="'Liberation Sans', Arial, sans-serif" font-size="16">****</text>
<path d="M310.9 634.2V647.4M310.9 658.8V673.2" stroke="#BC3C29" stroke-width="2.8" fill="none"/><rect x="304.8" y="647.4" width="12.2" height="11.4" stroke="#BC3C29" stroke-width="2.0" fill="#fff"/><path d="M304.8 653.2H317" stroke="#BC3C29" stroke-width="2.6"/>
<path d="M324.5 631.7V641.8M324.5 649.1V658" stroke="#0072B5" stroke-width="2.8" fill="none"/><rect x="318.4" y="641.8" width="12.2" height="7.3" stroke="#0072B5" stroke-width="2.0" fill="#fff"/><path d="M318.4 645.2H330.6" stroke="#0072B5" stroke-width="2.6"/><circle cx="324.5" cy="615.6" r="3.2" fill="#0072B5"/><circle cx="324.5" cy="624.9" r="3.2" fill="#0072B5"/><circle cx="324.5" cy="661.3" r="3.2" fill="#0072B5"/><circle cx="324.5" cy="663" r="3.2" fill="#0072B5"/><circle cx="324.5" cy="664.7" r="3.2" fill="#0072B5"/>
<path d="M338.1 657.1V658.4M338.1 662.7V664.5" stroke="#E18727" stroke-width="2.8" fill="none"/><rect x="332" y="658.4" width="12.2" height="4.3" stroke="#E18727" stroke-width="2.0" fill="#fff"/><path d="M332 660.5H344.3" stroke="#E18727" stroke-width="2.6"/><circle cx="338.1" cy="641" r="3.2" fill="#E18727"/><circle cx="338.1" cy="644.5" r="3.2" fill="#E18727"/><circle cx="338.1" cy="647.8" r="3.2" fill="#E18727"/><circle cx="338.1" cy="674" r="3.2" fill="#E18727"/>
<path d="M375.6 808.8V813.8" stroke="#000" stroke-width="1.8"/>
<text transform="translate(385.1 822.1) rotate(-60)" text-anchor="end" class="k" font-family="'Liberation Serif', 'Times New Roman', serif" font-size="17">Effector memeory CD4 T cell</text>
<text x="375.6" y="599.3" text-anchor="middle" font-family="'Liberation Sans', Arial, sans-serif" font-size="16">*</text>
<path d="M361.9 641V651.1M361.9 659.6V666.4" stroke="#BC3C29" stroke-width="2.8" fill="none"/><rect x="355.8" y="651.1" width="12.2" height="8.5" stroke="#BC3C29" stroke-width="2.0" fill="#fff"/><path d="M355.8 655.7H368.1" stroke="#BC3C29" stroke-width="2.6"/><circle cx="361.9" cy="637.9" r="3.2" fill="#BC3C29"/><circle cx="361.9" cy="671.5" r="3.2" fill="#BC3C29"/><circle cx="361.9" cy="674.5" r="3.2" fill="#BC3C29"/><circle cx="361.9" cy="677.4" r="3.2" fill="#BC3C29"/>
<path d="M375.6 639.3V648.1M375.6 661V672.3" stroke="#0072B5" stroke-width="2.8" fill="none"/><rect x="369.4" y="648.1" width="12.2" height="12.9" stroke="#0072B5" stroke-width="2.0" fill="#fff"/><path d="M369.4 653.7H381.7" stroke="#0072B5" stroke-width="2.6"/>
<path d="M389.2 648.6V656.6M389.2 663.8V669.4" stroke="#E18727" stroke-width="2.8" fill="none"/><rect x="383" y="656.6" width="12.2" height="7.2" stroke="#E18727" stroke-width="2.0" fill="#fff"/><path d="M383 659.9H395.3" stroke="#E18727" stroke-width="2.6"/>
<path d="M426.6 808.8V813.8" stroke="#000" stroke-width="1.8"/>
<text transform="translate(436.1 822.1) rotate(-60)" text-anchor="end" class="k" font-family="'Liberation Serif', 'Times New Roman', serif" font-size="17">Effector memeory CD8 T cell</text>
<text x="426.6" y="599.3" text-anchor="middle" font-family="'Liberation Sans', Arial, sans-serif" font-size="16">**</text>
<path d="M413 651.1V663M413 675.7V687.6" stroke="#BC3C29" stroke-width="2.8" fill="none"/><rect x="406.8" y="663" width="12.2" height="12.7" stroke="#BC3C29" stroke-width="2.0" fill="#fff"/><path d="M406.8 668.1H419.1" stroke="#BC3C29" stroke-width="2.6"/><circle cx="413" cy="694.8" r="3.2" fill="#BC3C29"/>
<path d="M426.6 641.8V657.1M426.6 669.4V677.9" stroke="#0072B5" stroke-width="2.8" fill="none"/><rect x="420.5" y="657.1" width="12.2" height="12.3" stroke="#0072B5" stroke-width="2.0" fill="#fff"/><path d="M420.5 663H432.7" stroke="#0072B5" stroke-width="2.6"/><circle cx="426.6" cy="636.7" r="3.2" fill="#0072B5"/><circle cx="426.6" cy="687.6" r="3.2" fill="#0072B5"/><circle cx="426.6" cy="691" r="3.2" fill="#0072B5"/><circle cx="426.6" cy="694.3" r="3.2" fill="#0072B5"/>
<path d="M440.2 661.3V666.7M440.2 680.8V683.3" stroke="#E18727" stroke-width="2.8" fill="none"/><rect x="434.1" y="666.7" width="12.2" height="14.1" stroke="#E18727" stroke-width="2.0" fill="#fff"/><path d="M434.1 673.2H446.3" stroke="#E18727" stroke-width="2.6"/>
<path d="M477.6 808.8V813.8" stroke="#000" stroke-width="1.8"/>
<text transform="translate(487.1 822.1) rotate(-60)" text-anchor="end" class="k" font-family="'Liberation Serif', 'Times New Roman', serif" font-size="17">Gamma delta T cell</text>
<text x="477.6" y="599.3" text-anchor="middle" font-family="'Liberation Sans', Arial, sans-serif" font-size="16">****</text>
<path d="M464 637V653.7M464 666.4V678.2" stroke="#BC3C29" stroke-width="2.8" fill="none"/><rect x="457.9" y="653.7" width="12.2" height="12.7" stroke="#BC3C29" stroke-width="2.0" fill="#fff"/><path d="M457.9 659.6H470.1" stroke="#BC3C29" stroke-width="2.6"/><circle cx="464" cy="633.9" r="3.2" fill="#BC3C29"/>
<path d="M477.6 629.1V646.6M477.6 661.3V677.9" stroke="#0072B5" stroke-width="2.8" fill="none"/><rect x="471.5" y="646.6" width="12.2" height="14.7" stroke="#0072B5" stroke-width="2.0" fill="#fff"/><path d="M471.5 654.5H483.7" stroke="#0072B5" stroke-width="2.6"/>
<path d="M491.2 654.9V659.3M491.2 669.8V681.3" stroke="#E18727" stroke-width="2.8" fill="none"/><rect x="485.1" y="659.3" width="12.2" height="10.5" stroke="#E18727" stroke-width="2.0" fill="#fff"/><path d="M485.1 663.3H497.3" stroke="#E18727" stroke-width="2.6"/>
<path d="M528.6 808.8V813.8" stroke="#000" stroke-width="1.8"/>
<text transform="translate(538.1 822.1) rotate(-60)" text-anchor="end" class="k" font-family="'Liberation Serif', 'Times New Roman', serif" font-size="17">Immature &#160;B cell</text>
<text class="k" x="528.6" y="599.3" text-anchor="middle" font-family="'Liberation Sans', Arial, sans-serif" font-size="16">ns</text>
<path d="M515 685.9V705.3M515 726V747.7" stroke="#BC3C29" stroke-width="2.8" fill="none"/><rect x="508.9" y="705.3" width="12.2" height="20.7" stroke="#BC3C29" stroke-width="2.0" fill="#fff"/><path d="M508.9 712.5H521.2" stroke="#BC3C29" stroke-width="2.6"/><circle cx="515" cy="674.3" r="3.2" fill="#BC3C29"/><circle cx="515" cy="763.3" r="3.2" fill="#BC3C29"/>
<path d="M528.6 686.4V702.3M528.6 716.9V740" stroke="#0072B5" stroke-width="2.8" fill="none"/><rect x="522.5" y="702.3" width="12.2" height="14.6" stroke="#0072B5" stroke-width="2.0" fill="#fff"/><path d="M522.5 710.1H534.8" stroke="#0072B5" stroke-width="2.6"/><circle cx="528.6" cy="675.7" r="3.2" fill="#0072B5"/><circle cx="528.6" cy="678" r="3.2" fill="#0072B5"/><circle cx="528.6" cy="680" r="3.2" fill="#0072B5"/><circle cx="528.6" cy="741.8" r="3.2" fill="#0072B5"/><circle cx="528.6" cy="762.9" r="3.2" fill="#0072B5"/>
<path d="M542.2 688.4V708.4M542.2 733.3V747.7" stroke="#E18727" stroke-width="2.8" fill="none"/><rect x="536.1" y="708.4" width="12.2" height="24.9" stroke="#E18727" stroke-width="2.0" fill="#fff"/><path d="M536.1 713H548.4" stroke="#E18727" stroke-width="2.6"/>
<path d="M579.7 808.8V813.8" stroke="#000" stroke-width="1.8"/>
<text transform="translate(589.2 822.1) rotate(-60)" text-anchor="end" class="k" font-family="'Liberation Serif', 'Times New Roman', serif" font-size="17">Memory B cell</text>
<text x="579.7" y="599.3" text-anchor="middle" font-family="'Liberation Sans', Arial, sans-serif" font-size="16">**</text>
<path d="M566.1 682.5V695.2M566.1 706.7V720.2" stroke="#BC3C29" stroke-width="2.8" fill="none"/><rect x="559.9" y="695.2" width="12.2" height="11.5" stroke="#BC3C29" stroke-width="2.0" fill="#fff"/><path d="M559.9 700.3H572.2" stroke="#BC3C29" stroke-width="2.6"/>
<path d="M579.7 680.3V690.9M579.7 701.6V712.1" stroke="#0072B5" stroke-width="2.8" fill="none"/><rect x="573.5" y="690.9" width="12.2" height="10.7" stroke="#0072B5" stroke-width="2.0" fill="#fff"/><path d="M573.5 696.5H585.8" stroke="#0072B5" stroke-width="2.6"/>
<path d="M593.3 692.1V696.5M593.3 710.1V718.9" stroke="#E18727" stroke-width="2.8" fill="none"/><rect x="587.2" y="696.5" width="12.2" height="13.6" stroke="#E18727" stroke-width="2.0" fill="#fff"/><path d="M587.2 705.7H599.4" stroke="#E18727" stroke-width="2.6"/>
<path d="M630.7 808.8V813.8" stroke="#000" stroke-width="1.8"/>
<text transform="translate(640.2 822.1) rotate(-60)" text-anchor="end" class="k" font-family="'Liberation Serif', 'Times New Roman', serif" font-size="17">Regulatory T cell</text>
<text x="630.7" y="599.3" text-anchor="middle" font-family="'Liberation Sans', Arial, sans-serif" font-size="16">****</text>
<path d="M617.1 627.8V652M617.1 675.7V701.1" stroke="#BC3C29" stroke-width="2.8" fill="none"/><rect x="611" y="652" width="12.2" height="23.7" stroke="#BC3C29" stroke-width="2.0" fill="#fff"/><path d="M611 664.2H623.2" stroke="#BC3C29" stroke-width="2.6"/>
<path d="M630.7 620.3V641.8M630.7 664.7V685.9" stroke="#0072B5" stroke-width="2.8" fill="none"/><rect x="624.6" y="641.8" width="12.2" height="22.9" stroke="#0072B5" stroke-width="2.0" fill="#fff"/><path d="M624.6 649.8H636.8" stroke="#0072B5" stroke-width="2.6"/>
<path d="M644.3 665.5V671.1M644.3 676.5V680.8" stroke="#E18727" stroke-width="2.8" fill="none"/><rect x="638.2" y="671.1" width="12.2" height="5.4" stroke="#E18727" stroke-width="2.0" fill="#fff"/><path d="M638.2 673.2H650.4" stroke="#E18727" stroke-width="2.6"/><circle cx="644.3" cy="651.1" r="3.2" fill="#E18727"/><circle cx="644.3" cy="654.5" r="3.2" fill="#E18727"/><circle cx="644.3" cy="657.9" r="3.2" fill="#E18727"/><circle cx="644.3" cy="698.1" r="3.2" fill="#E18727"/>
<path d="M681.7 808.8V813.8" stroke="#000" stroke-width="1.8"/>
<text transform="translate(691.2 822.1) rotate(-60)" text-anchor="end" class="k" font-family="'Liberation Serif', 'Times New Roman', serif" font-size="17">T follicular helper cell</text>
<text x="681.7" y="599.3" text-anchor="middle" font-family="'Liberation Sans', Arial, sans-serif" font-size="16">***</text>
<path d="M668.1 641.3V653.7M668.1 666V679.1" stroke="#BC3C29" stroke-width="2.8" fill="none"/><rect x="662" y="653.7" width="12.2" height="12.3" stroke="#BC3C29" stroke-width="2.0" fill="#fff"/><path d="M662 658.8H674.2" stroke="#BC3C29" stroke-width="2.6"/><circle cx="668.1" cy="681.6" r="3.2" fill="#BC3C29"/>
<path d="M681.7 637V648.6M681.7 658.3V671.5" stroke="#0072B5" stroke-width="2.8" fill="none"/><rect x="675.6" y="648.6" width="12.2" height="9.7" stroke="#0072B5" stroke-width="2.0" fill="#fff"/><path d="M675.6 654H687.9" stroke="#0072B5" stroke-width="2.6"/><circle cx="681.7" cy="633.9" r="3.2" fill="#0072B5"/><circle cx="681.7" cy="688.1" r="3.2" fill="#0072B5"/>
<path d="M695.3 655V657.6M695.3 668.9V675.2" stroke="#E18727" stroke-width="2.8" fill="none"/><rect x="689.2" y="657.6" width="12.2" height="11.3" stroke="#E18727" stroke-width="2.0" fill="#fff"/><path d="M689.2 661H701.5" stroke="#E18727" stroke-width="2.6"/>
<path d="M732.8 808.8V813.8" stroke="#000" stroke-width="1.8"/>
<text transform="translate(742.3 822.1) rotate(-60)" text-anchor="end" class="k" font-family="'Liberation Serif', 'Times New Roman', serif" font-size="17">Type 1 T helper cell</text>
<text x="732.8" y="599.3" text-anchor="middle" font-family="'Liberation Sans', Arial, sans-serif" font-size="16">***</text>
<path d="M719.2 663V673.2M719.2 684.2V696" stroke="#BC3C29" stroke-width="2.8" fill="none"/><rect x="713" y="673.2" width="12.2" height="11" stroke="#BC3C29" stroke-width="2.0" fill="#fff"/><path d="M713 677.9H725.3" stroke="#BC3C29" stroke-width="2.6"/>
<path d="M732.8 654.9V667.7M732.8 680.3V693.1" stroke="#0072B5" stroke-width="2.8" fill="none"/><rect x="726.6" y="667.7" width="12.2" height="12.6" stroke="#0072B5" stroke-width="2.0" fill="#fff"/><path d="M726.6 670.6H738.9" stroke="#0072B5" stroke-width="2.6"/><circle cx="732.8" cy="698.6" r="3.2" fill="#0072B5"/>
<path d="M746.4 673.2V678.6M746.4 687V690" stroke="#E18727" stroke-width="2.8" fill="none"/><rect x="740.2" y="678.6" width="12.2" height="8.4" stroke="#E18727" stroke-width="2.0" fill="#fff"/><path d="M740.2 682.5H752.5" stroke="#E18727" stroke-width="2.6"/><circle cx="746.4" cy="699.1" r="3.2" fill="#E18727"/>
<path d="M783.8 808.8V813.8" stroke="#000" stroke-width="1.8"/>
<text transform="translate(793.3 822.1) rotate(-60)" text-anchor="end" class="k" font-family="'Liberation Serif', 'Times New Roman', serif" font-size="17">Type 17 T helper cell</text>
<text x="783.8" y="599.3" text-anchor="middle" font-family="'Liberation Sans', Arial, sans-serif" font-size="16">**</text>
<path d="M770.2 704.5V714.7M770.2 723.6V733.3" stroke="#BC3C29" stroke-width="2.8" fill="none"/><rect x="764.1" y="714.7" width="12.2" height="8.9" stroke="#BC3C29" stroke-width="2.0" fill="#fff"/><path d="M764.1 717.5H776.3" stroke="#BC3C29" stroke-width="2.6"/><circle cx="770.2" cy="740" r="3.2" fill="#BC3C29"/><circle cx="770.2" cy="742.5" r="3.2" fill="#BC3C29"/><circle cx="770.2" cy="745.1" r="3.2" fill="#BC3C29"/>
<path d="M783.8 701.6V710.1M783.8 719.2V722" stroke="#0072B5" stroke-width="2.8" fill="none"/><rect x="777.7" y="710.1" width="12.2" height="9.1" stroke="#0072B5" stroke-width="2.0" fill="#fff"/><path d="M777.7 711.8H789.9" stroke="#0072B5" stroke-width="2.6"/><circle cx="783.8" cy="694.3" r="3.2" fill="#0072B5"/><circle cx="783.8" cy="740.6" r="3.2" fill="#0072B5"/>
<path d="M797.4 707.4V714.7M797.4 724.8V729.4" stroke="#E18727" stroke-width="2.8" fill="none"/><rect x="791.3" y="714.7" width="12.2" height="10.1" stroke="#E18727" stroke-width="2.0" fill="#fff"/><path d="M791.3 719.7H803.5" stroke="#E18727" stroke-width="2.6"/>
<path d="M834.8 808.8V813.8" stroke="#000" stroke-width="1.8"/>
<text transform="translate(844.3 822.1) rotate(-60)" text-anchor="end" class="k" font-family="'Liberation Serif', 'Times New Roman', serif" font-size="17">Type 2 T helper cell</text>
<text class="k" x="834.8" y="599.3" text-anchor="middle" font-family="'Liberation Sans', Arial, sans-serif" font-size="16">ns</text>
<path d="M821.2 662V671.1M821.2 678.6V688" stroke="#BC3C29" stroke-width="2.8" fill="none"/><rect x="815.1" y="671.1" width="12.2" height="7.5" stroke="#BC3C29" stroke-width="2.0" fill="#fff"/><path d="M815.1 673.5H827.3" stroke="#BC3C29" stroke-width="2.6"/><circle cx="821.2" cy="658.8" r="3.2" fill="#BC3C29"/><circle cx="821.2" cy="690.9" r="3.2" fill="#BC3C29"/>
<path d="M834.8 661V670.6M834.8 679.9V683.7" stroke="#0072B5" stroke-width="2.8" fill="none"/><rect x="828.7" y="670.6" width="12.2" height="9.3" stroke="#0072B5" stroke-width="2.0" fill="#fff"/><path d="M828.7 674.9H840.9" stroke="#0072B5" stroke-width="2.6"/>
<path d="M848.4 665.5V670.6M848.4 678.2V685.9" stroke="#E18727" stroke-width="2.8" fill="none"/><rect x="842.3" y="670.6" width="12.2" height="7.6" stroke="#E18727" stroke-width="2.0" fill="#fff"/><path d="M842.3 674H854.6" stroke="#E18727" stroke-width="2.6"/><circle cx="848.4" cy="693.1" r="3.2" fill="#E18727"/>
<path d="M885.9 808.8V813.8" stroke="#000" stroke-width="1.8"/>
<text transform="translate(895.4 822.1) rotate(-60)" text-anchor="end" class="k" font-family="'Liberation Serif', 'Times New Roman', serif" font-size="17">Activated dendritic cell</text>
<text x="885.9" y="599.3" text-anchor="middle" font-family="'Liberation Sans', Arial, sans-serif" font-size="16">***</text>
<path d="M872.2 646.9V659.6M872.2 671.1V681.6" stroke="#BC3C29" stroke-width="2.8" fill="none"/><rect x="866.1" y="659.6" width="12.2" height="11.5" stroke="#BC3C29" stroke-width="2.0" fill="#fff"/><path d="M866.1 665.5H878.4" stroke="#BC3C29" stroke-width="2.6"/><circle cx="872.2" cy="641.3" r="3.2" fill="#BC3C29"/><circle cx="872.2" cy="689.2" r="3.2" fill="#BC3C29"/>
<path d="M885.9 639.3V651.1M885.9 666.4V674" stroke="#0072B5" stroke-width="2.8" fill="none"/><rect x="879.7" y="651.1" width="12.2" height="15.3" stroke="#0072B5" stroke-width="2.0" fill="#fff"/><path d="M879.7 654.5H892" stroke="#0072B5" stroke-width="2.6"/><circle cx="885.9" cy="691.8" r="3.2" fill="#0072B5"/>
<path d="M899.5 659.3V663M899.5 675.7V690.9" stroke="#E18727" stroke-width="2.8" fill="none"/><rect x="893.3" y="663" width="12.2" height="12.7" stroke="#E18727" stroke-width="2.0" fill="#fff"/><path d="M893.3 668.4H905.6" stroke="#E18727" stroke-width="2.6"/>
<path d="M936.9 808.8V813.8" stroke="#000" stroke-width="1.8"/>
<text transform="translate(946.4 822.1) rotate(-60)" text-anchor="end" class="k" font-family="'Liberation Serif', 'Times New Roman', serif" font-size="17">CD56bright natural killer cell</text>
<text class="k" x="936.9" y="599.3" text-anchor="middle" font-family="'Liberation Sans', Arial, sans-serif" font-size="16">ns</text>
<path d="M923.3 637.2V642.7M923.3 649.1V655" stroke="#BC3C29" stroke-width="2.8" fill="none"/><rect x="917.1" y="642.7" width="12.2" height="6.4" stroke="#BC3C29" stroke-width="2.0" fill="#fff"/><path d="M917.1 645.2H929.4" stroke="#BC3C29" stroke-width="2.6"/><circle cx="923.3" cy="658.3" r="3.2" fill="#BC3C29"/>
<path d="M936.9 641V643.5M936.9 647.4V651" stroke="#0072B5" stroke-width="2.8" fill="none"/><rect x="930.8" y="643.5" width="12.2" height="3.9" stroke="#0072B5" stroke-width="2.0" fill="#fff"/><path d="M930.8 645.7H943" stroke="#0072B5" stroke-width="2.6"/><circle cx="936.9" cy="652.8" r="3.2" fill="#0072B5"/><circle cx="936.9" cy="655.3" r="3.2" fill="#0072B5"/><circle cx="936.9" cy="657.9" r="3.2" fill="#0072B5"/>
<path d="M950.5 639.6V642.3M950.5 649.4V654.2" stroke="#E18727" stroke-width="2.8" fill="none"/><rect x="944.4" y="642.3" width="12.2" height="7.1" stroke="#E18727" stroke-width="2.0" fill="#fff"/><path d="M944.4 645.7H956.6" stroke="#E18727" stroke-width="2.6"/>
<path d="M987.9 808.8V813.8" stroke="#000" stroke-width="1.8"/>
<text transform="translate(997.4 822.1) rotate(-60)" text-anchor="end" class="k" font-family="'Liberation Serif', 'Times New Roman', serif" font-size="17">CD56dim natural killer cell</text>
<text x="987.9" y="599.3" text-anchor="middle" font-family="'Liberation Sans', Arial, sans-serif" font-size="16">*</text>
<path d="M974.3 624.4V634.5M974.3 642.7V652.8" stroke="#BC3C29" stroke-width="2.8" fill="none"/><rect x="968.2" y="634.5" width="12.2" height="8.2" stroke="#BC3C29" stroke-width="2.0" fill="#fff"/><path d="M968.2 638.4H980.4" stroke="#BC3C29" stroke-width="2.6"/><circle cx="974.3" cy="621.2" r="3.2" fill="#BC3C29"/><circle cx="974.3" cy="656.2" r="3.2" fill="#BC3C29"/>
<path d="M987.9 626.1V633.4M987.9 641.8V647.4" stroke="#0072B5" stroke-width="2.8" fill="none"/><rect x="981.8" y="633.4" width="12.2" height="8.4" stroke="#0072B5" stroke-width="2.0" fill="#fff"/><path d="M981.8 637.6H994" stroke="#0072B5" stroke-width="2.6"/>
<path d="M1001.5 633.9V634.5M1001.5 652.8V661.3" stroke="#E18727" stroke-width="2.8" fill="none"/><rect x="995.4" y="634.5" width="12.2" height="18.3" stroke="#E18727" stroke-width="2.0" fill="#fff"/><path d="M995.4 646.4H1007.6" stroke="#E18727" stroke-width="2.6"/>
<path d="M1038.9 808.8V813.8" stroke="#000" stroke-width="1.8"/>
<text transform="translate(1048.4 822.1) rotate(-60)" text-anchor="end" class="k" font-family="'Liberation Serif', 'Times New Roman', serif" font-size="17">Eosinophil</text>
<text class="k" x="1038.9" y="599.3" text-anchor="middle" font-family="'Liberation Sans', Arial, sans-serif" font-size="16">ns</text>
<path d="M1025.3 711.8V724M1025.3 735V751.1" stroke="#BC3C29" stroke-width="2.8" fill="none"/><rect x="1019.2" y="724" width="12.2" height="11" stroke="#BC3C29" stroke-width="2.0" fill="#fff"/><path d="M1019.2 729.4H1031.5" stroke="#BC3C29" stroke-width="2.6"/>
<path d="M1038.9 706.7V721.4M1038.9 732.4V740.1" stroke="#0072B5" stroke-width="2.8" fill="none"/><rect x="1032.8" y="721.4" width="12.2" height="11" stroke="#0072B5" stroke-width="2.0" fill="#fff"/><path d="M1032.8 727.4H1045.1" stroke="#0072B5" stroke-width="2.6"/>
<path d="M1052.5 696.9V716.9M1052.5 735.5V754.5" stroke="#E18727" stroke-width="2.8" fill="none"/><rect x="1046.4" y="716.9" width="12.2" height="18.6" stroke="#E18727" stroke-width="2.0" fill="#fff"/><path d="M1046.4 726H1058.7" stroke="#E18727" stroke-width="2.6"/>
<path d="M1090 808.8V813.8" stroke="#000" stroke-width="1.8"/>
<text transform="translate(1099.5 822.1) rotate(-60)" text-anchor="end" class="k" font-family="'Liberation Serif', 'Times New Roman', serif" font-size="17">Immature dendritic cell</text>
<text x="1090" y="599.3" text-anchor="middle" font-family="'Liberation Sans', Arial, sans-serif" font-size="16">****</text>
<path d="M1076.4 634V642.3M1076.4 651.5V659.6" stroke="#BC3C29" stroke-width="2.8" fill="none"/><rect x="1070.2" y="642.3" width="12.2" height="9.2" stroke="#BC3C29" stroke-width="2.0" fill="#fff"/><path d="M1070.2 646.9H1082.5" stroke="#BC3C29" stroke-width="2.6"/><circle cx="1076.4" cy="630.8" r="3.2" fill="#BC3C29"/><circle cx="1076.4" cy="665.5" r="3.2" fill="#BC3C29"/>
<path d="M1090 627.1V637.6M1090 646.4V652.8" stroke="#0072B5" stroke-width="2.8" fill="none"/><rect x="1083.8" y="637.6" width="12.2" height="8.8" stroke="#0072B5" stroke-width="2.0" fill="#fff"/><path d="M1083.8 641.8H1096.1" stroke="#0072B5" stroke-width="2.6"/>
<path d="M1103.6 638.9V645.7M1103.6 655.9V657.6" stroke="#E18727" stroke-width="2.8" fill="none"/><rect x="1097.5" y="645.7" width="12.2" height="10.2" stroke="#E18727" stroke-width="2.0" fill="#fff"/><path d="M1097.5 651.1H1109.7" stroke="#E18727" stroke-width="2.6"/>
<path d="M1141 808.8V813.8" stroke="#000" stroke-width="1.8"/>
<text transform="translate(1150.5 822.1) rotate(-60)" text-anchor="end" class="k" font-family="'Liberation Serif', 'Times New Roman', serif" font-size="17">Macrophage</text>
<text x="1141" y="599.3" text-anchor="middle" font-family="'Liberation Sans', Arial, sans-serif" font-size="16">***</text>
<path d="M1127.4 655.9V674.9M1127.4 691.8V715.5" stroke="#BC3C29" stroke-width="2.8" fill="none"/><rect x="1121.3" y="674.9" width="12.2" height="16.9" stroke="#BC3C29" stroke-width="2.0" fill="#fff"/><path d="M1121.3 682.5H1133.5" stroke="#BC3C29" stroke-width="2.6"/>
<path d="M1141 641.8V663.8M1141 682.5V705.3" stroke="#0072B5" stroke-width="2.8" fill="none"/><rect x="1134.9" y="663.8" width="12.2" height="18.7" stroke="#0072B5" stroke-width="2.0" fill="#fff"/><path d="M1134.9 673.5H1147.1" stroke="#0072B5" stroke-width="2.6"/>
<path d="M1154.6 675.2V680.8M1154.6 695.5V710.4" stroke="#E18727" stroke-width="2.8" fill="none"/><rect x="1148.5" y="680.8" width="12.2" height="14.7" stroke="#E18727" stroke-width="2.0" fill="#fff"/><path d="M1148.5 683.3H1160.7" stroke="#E18727" stroke-width="2.6"/>
<path d="M1192 808.8V813.8" stroke="#000" stroke-width="1.8"/>
<text transform="translate(1201.5 822.1) rotate(-60)" text-anchor="end" class="k" font-family="'Liberation Serif', 'Times New Roman', serif" font-size="17">Mast cell</text>
<text x="1192" y="599.3" text-anchor="middle" font-family="'Liberation Sans', Arial, sans-serif" font-size="16">****</text>
<path d="M1178.4 665.5V692.1M1178.4 714.7V736.7" stroke="#BC3C29" stroke-width="2.8" fill="none"/><rect x="1172.3" y="692.1" width="12.2" height="22.6" stroke="#BC3C29" stroke-width="2.0" fill="#fff"/><path d="M1172.3 704.5H1184.5" stroke="#BC3C29" stroke-width="2.6"/>
<path d="M1192 661V679.1M1192 704V720.6" stroke="#0072B5" stroke-width="2.8" fill="none"/><rect x="1185.9" y="679.1" width="12.2" height="24.9" stroke="#0072B5" stroke-width="2.0" fill="#fff"/><path d="M1185.9 689.8H1198.2" stroke="#0072B5" stroke-width="2.6"/>
<path d="M1205.6 696.5V703.3M1205.6 715.8V729" stroke="#E18727" stroke-width="2.8" fill="none"/><rect x="1199.5" y="703.3" width="12.2" height="12.5" stroke="#E18727" stroke-width="2.0" fill="#fff"/><path d="M1199.5 710.8H1211.8" stroke="#E18727" stroke-width="2.6"/>
<path d="M1243.1 808.8V813.8" stroke="#000" stroke-width="1.8"/>
<text transform="translate(1252.6 822.1) rotate(-60)" text-anchor="end" class="k" font-family="'Liberation Serif', 'Times New Roman', serif" font-size="17">MDSC</text>
<text x="1243.1" y="599.3" text-anchor="middle" font-family="'Liberation Sans', Arial, sans-serif" font-size="16">****</text>
<path d="M1229.5 611.3V625.7M1229.5 652V682.5" stroke="#BC3C29" stroke-width="2.8" fill="none"/><rect x="1223.3" y="625.7" width="12.2" height="26.3" stroke="#BC3C29" stroke-width="2.0" fill="#fff"/><path d="M1223.3 636.7H1235.6" stroke="#BC3C29" stroke-width="2.6"/>
<path d="M1243.1 599V616.4M1243.1 634.5V660.5" stroke="#0072B5" stroke-width="2.8" fill="none"/><rect x="1236.9" y="616.4" width="12.2" height="18.1" stroke="#0072B5" stroke-width="2.0" fill="#fff"/><path d="M1236.9 624.9H1249.2" stroke="#0072B5" stroke-width="2.6"/><circle cx="1243.1" cy="678.2" r="3.2" fill="#0072B5"/>
<path d="M1256.7 630V635M1256.7 667.7V672.8" stroke="#E18727" stroke-width="2.8" fill="none"/><rect x="1250.5" y="635" width="12.2" height="32.7" stroke="#E18727" stroke-width="2.0" fill="#fff"/><path d="M1250.5 637.6H1262.8" stroke="#E18727" stroke-width="2.6"/>
<path d="M1294.1 808.8V813.8" stroke="#000" stroke-width="1.8"/>
<text transform="translate(1303.6 822.1) rotate(-60)" text-anchor="end" class="k" font-family="'Liberation Serif', 'Times New Roman', serif" font-size="17">Monocyte</text>
<text x="1294.1" y="599.3" text-anchor="middle" font-family="'Liberation Sans', Arial, sans-serif" font-size="16">**</text>
<path d="M1280.5 620.7V628.3M1280.5 636.7V642" stroke="#BC3C29" stroke-width="2.8" fill="none"/><rect x="1274.4" y="628.3" width="12.2" height="8.4" stroke="#BC3C29" stroke-width="2.0" fill="#fff"/><path d="M1274.4 630.8H1286.6" stroke="#BC3C29" stroke-width="2.6"/><circle cx="1280.5" cy="646.9" r="3.2" fill="#BC3C29"/><circle cx="1280.5" cy="653.7" r="3.2" fill="#BC3C29"/>
<path d="M1294.1 622V626.6M1294.1 632.5V638.4" stroke="#0072B5" stroke-width="2.8" fill="none"/><rect x="1288" y="626.6" width="12.2" height="5.9" stroke="#0072B5" stroke-width="2.0" fill="#fff"/><path d="M1288 629.5H1300.2" stroke="#0072B5" stroke-width="2.6"/><circle cx="1294.1" cy="611.3" r="3.2" fill="#0072B5"/><circle cx="1294.1" cy="613" r="3.2" fill="#0072B5"/><circle cx="1294.1" cy="614.7" r="3.2" fill="#0072B5"/><circle cx="1294.1" cy="647.8" r="3.2" fill="#0072B5"/><circle cx="1294.1" cy="663" r="3.2" fill="#0072B5"/>
<path d="M1307.7 627.4V632.2M1307.7 637.6V640" stroke="#E18727" stroke-width="2.8" fill="none"/><rect x="1301.6" y="632.2" width="12.2" height="5.4" stroke="#E18727" stroke-width="2.0" fill="#fff"/><path d="M1301.6 635H1313.8" stroke="#E18727" stroke-width="2.6"/><circle cx="1307.7" cy="644.4" r="3.2" fill="#E18727"/><circle cx="1307.7" cy="652" r="3.2" fill="#E18727"/>
<path d="M1345.1 808.8V813.8" stroke="#000" stroke-width="1.8"/>
<text transform="translate(1354.6 822.1) rotate(-60)" text-anchor="end" class="k" font-family="'Liberation Serif', 'Times New Roman', serif" font-size="17">Natural killer cell</text>
<text x="1345.1" y="599.3" text-anchor="middle" font-family="'Liberation Sans', Arial, sans-serif" font-size="16">***</text>
<path d="M1331.5 636.7V645.2M1331.5 654.5V666" stroke="#BC3C29" stroke-width="2.8" fill="none"/><rect x="1325.4" y="645.2" width="12.2" height="9.3" stroke="#BC3C29" stroke-width="2.0" fill="#fff"/><path d="M1325.4 649.4H1337.6" stroke="#BC3C29" stroke-width="2.6"/>
<path d="M1345.1 634.5V641.8M1345.1 650.3V659.3" stroke="#0072B5" stroke-width="2.8" fill="none"/><rect x="1339" y="641.8" width="12.2" height="8.5" stroke="#0072B5" stroke-width="2.0" fill="#fff"/><path d="M1339 645.2H1351.2" stroke="#0072B5" stroke-width="2.6"/><circle cx="1345.1" cy="671.5" r="3.2" fill="#0072B5"/>
<path d="M1358.7 644V648.1M1358.7 659.6V664.7" stroke="#E18727" stroke-width="2.8" fill="none"/><rect x="1352.6" y="648.1" width="12.2" height="11.5" stroke="#E18727" stroke-width="2.0" fill="#fff"/><path d="M1352.6 653.7H1364.9" stroke="#E18727" stroke-width="2.6"/>
<path d="M1396.2 808.8V813.8" stroke="#000" stroke-width="1.8"/>
<text transform="translate(1405.7 822.1) rotate(-60)" text-anchor="end" class="k" font-family="'Liberation Serif', 'Times New Roman', serif" font-size="17">Natural killer T cell</text>
<text x="1396.2" y="599.3" text-anchor="middle" font-family="'Liberation Sans', Arial, sans-serif" font-size="16">****</text>
<path d="M1382.5 675.3V687.3M1382.5 697.9V712.1" stroke="#BC3C29" stroke-width="2.8" fill="none"/><rect x="1376.4" y="687.3" width="12.2" height="10.6" stroke="#BC3C29" stroke-width="2.0" fill="#fff"/><path d="M1376.4 690.3H1388.7" stroke="#BC3C29" stroke-width="2.6"/>
<path d="M1396.2 670.2V681.6M1396.2 691.2V701" stroke="#0072B5" stroke-width="2.8" fill="none"/><rect x="1390" y="681.6" width="12.2" height="9.6" stroke="#0072B5" stroke-width="2.0" fill="#fff"/><path d="M1390 686.5H1402.3" stroke="#0072B5" stroke-width="2.6"/><circle cx="1396.2" cy="705.1" r="3.2" fill="#0072B5"/>
<path d="M1409.8 694.3V695.9M1409.8 702.2V705" stroke="#E18727" stroke-width="2.8" fill="none"/><rect x="1403.6" y="695.9" width="12.2" height="6.3" stroke="#E18727" stroke-width="2.0" fill="#fff"/><path d="M1403.6 699.4H1415.9" stroke="#E18727" stroke-width="2.6"/><circle cx="1409.8" cy="709.8" r="3.2" fill="#E18727"/>
<path d="M1447.2 808.8V813.8" stroke="#000" stroke-width="1.8"/>
<text transform="translate(1456.7 822.1) rotate(-60)" text-anchor="end" class="k" font-family="'Liberation Serif', 'Times New Roman', serif" font-size="17">Neutrophil</text>
<text x="1447.2" y="599.3" text-anchor="middle" font-family="'Liberation Sans', Arial, sans-serif" font-size="16">***</text>
<path d="M1433.6 702.6V733.1M1433.6 755V780.7" stroke="#BC3C29" stroke-width="2.8" fill="none"/><rect x="1427.4" y="733.1" width="12.2" height="21.9" stroke="#BC3C29" stroke-width="2.0" fill="#fff"/><path d="M1427.4 745.8H1439.7" stroke="#BC3C29" stroke-width="2.6"/><circle cx="1433.6" cy="693.7" r="3.2" fill="#BC3C29"/><circle cx="1433.6" cy="790.9" r="3.2" fill="#BC3C29"/><circle cx="1433.6" cy="796" r="3.2" fill="#BC3C29"/><circle cx="1433.6" cy="798.5" r="3.2" fill="#BC3C29"/>
<path d="M1447.2 686.5V716.6M1447.2 752.5V775" stroke="#0072B5" stroke-width="2.8" fill="none"/><rect x="1441.1" y="716.6" width="12.2" height="35.9" stroke="#0072B5" stroke-width="2.0" fill="#fff"/><path d="M1441.1 731.8H1453.3" stroke="#0072B5" stroke-width="2.6"/>
<path d="M1460.8 739.4V746.2M1460.8 772.8V787.1" stroke="#E18727" stroke-width="2.8" fill="none"/><rect x="1454.7" y="746.2" width="12.2" height="26.6" stroke="#E18727" stroke-width="2.0" fill="#fff"/><path d="M1454.7 756.6H1466.9" stroke="#E18727" stroke-width="2.6"/>
<path d="M1498.2 808.8V813.8" stroke="#000" stroke-width="1.8"/>
<text transform="translate(1507.7 822.1) rotate(-60)" text-anchor="end" class="k" font-family="'Liberation Serif', 'Times New Roman', serif" font-size="17">Plasmacytoid dendritic cell</text>
<text x="1498.2" y="599.3" text-anchor="middle" font-family="'Liberation Sans', Arial, sans-serif" font-size="16">***</text>
<path d="M1484.6 634.9V640.3M1484.6 646.1V652.4" stroke="#BC3C29" stroke-width="2.8" fill="none"/><rect x="1478.5" y="640.3" width="12.2" height="5.8" stroke="#BC3C29" stroke-width="2.0" fill="#fff"/><path d="M1478.5 642.2H1490.7" stroke="#BC3C29" stroke-width="2.6"/><circle cx="1484.6" cy="631.4" r="3.2" fill="#BC3C29"/>
<path d="M1498.2 630V637.2M1498.2 643.5V649" stroke="#0072B5" stroke-width="2.8" fill="none"/><rect x="1492.1" y="637.2" width="12.2" height="6.3" stroke="#0072B5" stroke-width="2.0" fill="#fff"/><path d="M1492.1 640.7H1504.3" stroke="#0072B5" stroke-width="2.6"/><circle cx="1498.2" cy="627" r="3.2" fill="#0072B5"/><circle cx="1498.2" cy="652.4" r="3.2" fill="#0072B5"/><circle cx="1498.2" cy="654.3" r="3.2" fill="#0072B5"/><circle cx="1498.2" cy="656.2" r="3.2" fill="#0072B5"/>
<path d="M1511.8 637.8V642.5M1511.8 651.8V653.7" stroke="#E18727" stroke-width="2.8" fill="none"/><rect x="1505.7" y="642.5" width="12.2" height="9.3" stroke="#E18727" stroke-width="2.0" fill="#fff"/><path d="M1505.7 644.8H1517.9" stroke="#E18727" stroke-width="2.6"/>
<text x="9" y="1048.6" font-family="'Liberation Sans', Arial, sans-serif" font-weight="bold" font-size="26">D</text>
<text x="172" y="1060.1" class="k" font-family="'Liberation Serif', 'Times New Roman', serif" font-size="16.3">CGGA</text><path d="M249.2 1045.1V1049.1M249.2 1061.8V1066" stroke="#BC3C29" stroke-width="1.9"/><rect x="239.79999999999998" y="1049.1" width="18.7" height="12.7" stroke="#BC3C29" stroke-width="1.75" fill="#fff"/><path d="M239.79999999999998 1055.4H258.5" stroke="#BC3C29" stroke-width="1.5"/><text x="270.2" y="1060.1" class="k" font-family="'Liberation Serif', 'Times New Roman', serif" font-size="14">C1</text><path d="M306.4 1045.1V1049.1M306.4 1061.8V1066" stroke="#0072B5" stroke-width="1.9"/><rect x="297.0" y="1049.1" width="18.7" height="12.7" stroke="#0072B5" stroke-width="1.75" fill="#fff"/><path d="M297.0 1055.4H315.7" stroke="#0072B5" stroke-width="1.5"/><text x="327.4" y="1060.1" class="k" font-family="'Liberation Serif', 'Times New Roman', serif" font-size="14">C2</text><path d="M364.3 1045.1V1049.1M364.3 1061.8V1066" stroke="#E18727" stroke-width="1.9"/><rect x="354.90000000000003" y="1049.1" width="18.7" height="12.7" stroke="#E18727" stroke-width="1.75" fill="#fff"/><path d="M354.90000000000003 1055.4H373.6" stroke="#E18727" stroke-width="1.5"/><text x="385.3" y="1060.1" class="k" font-family="'Liberation Serif', 'Times New Roman', serif" font-size="14">C3</text>
<path d="M103 1092.6V1352.3H470" stroke="#000" stroke-width="2.0" fill="none"/>
<path d="M98.2 1162.2H103" stroke="#000" stroke-width="1.8"/>
<text x="95.5" y="1168.2" text-anchor="end" class="k" font-family="'Liberation Serif', 'Times New Roman', serif" font-size="16.5">10000</text>
<path d="M98.2 1234.8H103" stroke="#000" stroke-width="1.8"/>
<text x="95.5" y="1240.8" text-anchor="end" class="k" font-family="'Liberation Serif', 'Times New Roman', serif" font-size="16.5">5000</text>
<path d="M98.2 1307.2H103" stroke="#000" stroke-width="1.8"/>
<text x="95.5" y="1313.2" text-anchor="end" class="k" font-family="'Liberation Serif', 'Times New Roman', serif" font-size="16.5">0</text>
<text transform="translate(45.5 1221.7) rotate(-90)" text-anchor="middle" class="k" font-family="'Liberation Serif', 'Times New Roman', serif" font-size="16.8">Score</text>
<path d="M171.6 1352.3V1357.3" stroke="#000" stroke-width="1.8"/>
<text transform="translate(181.1 1365.6) rotate(-60)" text-anchor="end" class="k" font-family="'Liberation Serif', 'Times New Roman', serif" font-size="17">StromalScore</text>
<text x="171.6" y="1104.5" text-anchor="middle" font-family="'Liberation Sans', Arial, sans-serif" font-size="16">****</text>
<path d="M140.9 1259.5V1280.6M140.9 1304.1V1330.1" stroke="#BC3C29" stroke-width="2.8" fill="none"/><rect x="127.1" y="1280.6" width="27.6" height="23.5" stroke="#BC3C29" stroke-width="2.0" fill="#fff"/><path d="M127.1 1292.5H154.7" stroke="#BC3C29" stroke-width="2.6"/><circle cx="140.9" cy="1244.2" r="3.2" fill="#BC3C29"/>
<path d="M171.6 1231.1V1261.3M171.6 1286.8V1320.2" stroke="#0072B5" stroke-width="2.8" fill="none"/><rect x="157.8" y="1261.3" width="27.6" height="25.5" stroke="#0072B5" stroke-width="2.0" fill="#fff"/><path d="M157.8 1275.1H185.4" stroke="#0072B5" stroke-width="2.6"/><circle cx="171.6" cy="1221.9" r="3.2" fill="#0072B5"/>
<path d="M202.3 1253V1286M202.3 1309.5V1327.6" stroke="#E18727" stroke-width="2.8" fill="none"/><rect x="188.5" y="1286" width="27.6" height="23.5" stroke="#E18727" stroke-width="2.0" fill="#fff"/><path d="M188.5 1301.6H216.1" stroke="#E18727" stroke-width="2.6"/><circle cx="202.3" cy="1250.4" r="3.2" fill="#E18727"/>
<path d="M286.6 1352.3V1357.3" stroke="#000" stroke-width="1.8"/>
<text transform="translate(296.1 1365.6) rotate(-60)" text-anchor="end" class="k" font-family="'Liberation Serif', 'Times New Roman', serif" font-size="17">ImmuneScore</text>
<text x="286.6" y="1104.5" text-anchor="middle" font-family="'Liberation Sans', Arial, sans-serif" font-size="16">****</text>
<path d="M255.9 1210.8V1248.4M255.9 1276.9V1317.2" stroke="#BC3C29" stroke-width="2.8" fill="none"/><rect x="242.1" y="1248.4" width="27.6" height="28.5" stroke="#BC3C29" stroke-width="2.0" fill="#fff"/><path d="M242.1 1265.2H269.7" stroke="#BC3C29" stroke-width="2.6"/>
<path d="M286.6 1190.2V1227.8M286.6 1257.8V1298.4" stroke="#0072B5" stroke-width="2.8" fill="none"/><rect x="272.8" y="1227.8" width="27.6" height="30" stroke="#0072B5" stroke-width="2.0" fill="#fff"/><path d="M272.8 1242.2H300.4" stroke="#0072B5" stroke-width="2.6"/>
<path d="M317.3 1226.6V1259.5M317.3 1283.5V1304.1" stroke="#E18727" stroke-width="2.8" fill="none"/><rect x="303.5" y="1259.5" width="27.6" height="24" stroke="#E18727" stroke-width="2.0" fill="#fff"/><path d="M303.5 1272.4H331.1" stroke="#E18727" stroke-width="2.6"/><circle cx="317.3" cy="1205.6" r="3.2" fill="#E18727"/><circle cx="317.3" cy="1219.9" r="3.2" fill="#E18727"/><circle cx="317.3" cy="1323.4" r="3.2" fill="#E18727"/>
<path d="M401.6 1352.3V1357.3" stroke="#000" stroke-width="1.8"/>
<text transform="translate(411.1 1365.6) rotate(-60)" text-anchor="end" class="k" font-family="'Liberation Serif', 'Times New Roman', serif" font-size="17">ESTIMATEScore</text>
<text x="401.6" y="1104.5" text-anchor="middle" font-family="'Liberation Sans', Arial, sans-serif" font-size="16">****</text>
<path d="M370.9 1153.1V1223.6M370.9 1271.9V1339.5" stroke="#BC3C29" stroke-width="2.8" fill="none"/><rect x="357.1" y="1223.6" width="27.6" height="48.3" stroke="#BC3C29" stroke-width="2.0" fill="#fff"/><path d="M357.1 1249.6H384.7" stroke="#BC3C29" stroke-width="2.6"/>
<path d="M401.6 1130.3V1188.5M401.6 1231.1V1292" stroke="#0072B5" stroke-width="2.8" fill="none"/><rect x="387.8" y="1188.5" width="27.6" height="42.6" stroke="#0072B5" stroke-width="2.0" fill="#fff"/><path d="M387.8 1209.5H415.4" stroke="#0072B5" stroke-width="2.6"/><circle cx="401.6" cy="1104.3" r="3.2" fill="#0072B5"/><circle cx="401.6" cy="1294.9" r="3.2" fill="#0072B5"/><circle cx="401.6" cy="1297" r="3.2" fill="#0072B5"/><circle cx="401.6" cy="1298.4" r="3.2" fill="#0072B5"/><circle cx="401.6" cy="1304.8" r="3.2" fill="#0072B5"/>
<path d="M432.3 1180.3V1239M432.3 1285V1339.5" stroke="#E18727" stroke-width="2.8" fill="none"/><rect x="418.5" y="1239" width="27.6" height="46" stroke="#E18727" stroke-width="2.0" fill="#fff"/><path d="M418.5 1263.2H446.1" stroke="#E18727" stroke-width="2.6"/><circle cx="432.3" cy="1155.1" r="3.2" fill="#E18727"/><circle cx="432.3" cy="1163.7" r="3.2" fill="#E18727"/>
<text x="478" y="1048.6" font-family="'Liberation Sans', Arial, sans-serif" font-weight="bold" font-size="26">E</text>
<text x="927.7" y="1060.0" class="k" font-family="'Liberation Serif', 'Times New Roman', serif" font-size="16.3">CGGA</text><path d="M1005.4 1045V1049M1005.4 1061.7V1065.9" stroke="#BC3C29" stroke-width="1.9"/><rect x="996.0" y="1049" width="18.7" height="12.7" stroke="#BC3C29" stroke-width="1.75" fill="#fff"/><path d="M996.0 1055.3H1014.6999999999999" stroke="#BC3C29" stroke-width="1.5"/><text x="1026.4" y="1060.0" class="k" font-family="'Liberation Serif', 'Times New Roman', serif" font-size="14">C1</text><path d="M1062.3 1045V1049M1062.3 1061.7V1065.9" stroke="#0072B5" stroke-width="1.9"/><rect x="1052.8999999999999" y="1049" width="18.7" height="12.7" stroke="#0072B5" stroke-width="1.75" fill="#fff"/><path d="M1052.8999999999999 1055.3H1071.6" stroke="#0072B5" stroke-width="1.5"/><text x="1083.3" y="1060.0" class="k" font-family="'Liberation Serif', 'Times New Roman', serif" font-size="14">C2</text><path d="M1119.4 1045V1049M1119.4 1061.7V1065.9" stroke="#E18727" stroke-width="1.9"/><rect x="1110.0" y="1049" width="18.7" height="12.7" stroke="#E18727" stroke-width="1.75" fill="#fff"/><path d="M1110.0 1055.3H1128.7" stroke="#E18727" stroke-width="1.5"/><text x="1140.4" y="1060.0" class="k" font-family="'Liberation Serif', 'Times New Roman', serif" font-size="14">C3</text>
<path d="M556.2 1092.5V1352.4H1528" stroke="#000" stroke-width="2.0" fill="none"/>
<path d="M551.4000000000001 1098.5H556.2" stroke="#000" stroke-width="1.8"/>
<text x="548.7" y="1104.5" text-anchor="end" class="k" font-family="'Liberation Serif', 'Times New Roman', serif" font-size="16.5">10.0</text>
<path d="M551.4000000000001 1164.1H556.2" stroke="#000" stroke-width="1.8"/>
<text x="548.7" y="1170.1" text-anchor="end" class="k" font-family="'Liberation Serif', 'Times New Roman', serif" font-size="16.5">7.5</text>
<path d="M551.4000000000001 1229.6H556.2" stroke="#000" stroke-width="1.8"/>
<text x="548.7" y="1235.6" text-anchor="end" class="k" font-family="'Liberation Serif', 'Times New Roman', serif" font-size="16.5">5.0</text>
<path d="M551.4000000000001 1295.4H556.2" stroke="#000" stroke-width="1.8"/>
<text x="548.7" y="1301.4" text-anchor="end" class="k" font-family="'Liberation Serif', 'Times New Roman', serif" font-size="16.5">2.5</text>
<text transform="translate(498.8 1222.2) rotate(-90)" text-anchor="middle" class="k" font-family="'Liberation Serif', 'Times New Roman', serif" font-size="16.8">Score</text>
<path d="M612.8 1352.4V1357.4" stroke="#000" stroke-width="1.8"/>
<text transform="translate(622.3 1365.7) rotate(-60)" text-anchor="end" class="k" font-family="'Liberation Serif', 'Times New Roman', serif" font-size="17">T cells</text>
<text x="612.8" y="1104.9" text-anchor="middle" font-family="'Liberation Sans', Arial, sans-serif" font-size="16">****</text>
<path d="M587.4 1290V1303.7M587.4 1316.7V1329.5" stroke="#BC3C29" stroke-width="2.8" fill="none"/><rect x="575.9" y="1303.7" width="22.9" height="13" stroke="#BC3C29" stroke-width="2.0" fill="#fff"/><path d="M575.9 1312.1H598.8" stroke="#BC3C29" stroke-width="2.6"/><circle cx="587.4" cy="1279.6" r="3.2" fill="#BC3C29"/><circle cx="587.4" cy="1283" r="3.2" fill="#BC3C29"/><circle cx="587.4" cy="1286.1" r="3.2" fill="#BC3C29"/>
<path d="M612.8 1281.3V1298.9M612.8 1313.8V1325.9" stroke="#0072B5" stroke-width="2.8" fill="none"/><rect x="601.4" y="1298.9" width="22.9" height="14.9" stroke="#0072B5" stroke-width="2.0" fill="#fff"/><path d="M601.4 1307.8H624.2" stroke="#0072B5" stroke-width="2.6"/><circle cx="612.8" cy="1274" r="3.2" fill="#0072B5"/>
<path d="M638.2 1292.6V1306.1M638.2 1319.1V1330.7" stroke="#E18727" stroke-width="2.8" fill="none"/><rect x="626.8" y="1306.1" width="22.9" height="13" stroke="#E18727" stroke-width="2.0" fill="#fff"/><path d="M626.8 1311.4H649.7" stroke="#E18727" stroke-width="2.6"/>
<path d="M708.2 1352.4V1357.4" stroke="#000" stroke-width="1.8"/>
<text transform="translate(717.7 1365.7) rotate(-60)" text-anchor="end" class="k" font-family="'Liberation Serif', 'Times New Roman', serif" font-size="17">CD8 T cells</text>
<text x="708.2" y="1104.9" text-anchor="middle" font-family="'Liberation Sans', Arial, sans-serif" font-size="16">****</text>
<path d="M682.7 1305V1321M682.7 1333.6V1339.8" stroke="#BC3C29" stroke-width="2.8" fill="none"/><rect x="671.3" y="1321" width="22.9" height="12.6" stroke="#BC3C29" stroke-width="2.0" fill="#fff"/><path d="M671.3 1328.3H694.2" stroke="#BC3C29" stroke-width="2.6"/><circle cx="682.7" cy="1265.6" r="3.2" fill="#BC3C29"/><circle cx="682.7" cy="1272.8" r="3.2" fill="#BC3C29"/><circle cx="682.7" cy="1284.9" r="3.2" fill="#BC3C29"/><circle cx="682.7" cy="1292.1" r="3.2" fill="#BC3C29"/><circle cx="682.7" cy="1295.5" r="3.2" fill="#BC3C29"/><circle cx="682.7" cy="1298.8" r="3.2" fill="#BC3C29"/><circle cx="682.7" cy="1301.8" r="3.2" fill="#BC3C29"/>
<path d="M708.2 1281.3V1308.5M708.2 1330.7V1339.8" stroke="#0072B5" stroke-width="2.8" fill="none"/><rect x="696.7" y="1308.5" width="22.9" height="22.2" stroke="#0072B5" stroke-width="2.0" fill="#fff"/><path d="M696.7 1323H719.6" stroke="#0072B5" stroke-width="2.6"/><circle cx="708.2" cy="1249.9" r="3.2" fill="#0072B5"/><circle cx="708.2" cy="1257.2" r="3.2" fill="#0072B5"/><circle cx="708.2" cy="1261" r="3.2" fill="#0072B5"/><circle cx="708.2" cy="1265" r="3.2" fill="#0072B5"/><circle cx="708.2" cy="1269" r="3.2" fill="#0072B5"/><circle cx="708.2" cy="1272" r="3.2" fill="#0072B5"/><circle cx="708.2" cy="1275.2" r="3.2" fill="#0072B5"/>
<path d="M733.6 1306V1323M733.6 1335V1339.8" stroke="#E18727" stroke-width="2.8" fill="none"/><rect x="722.2" y="1323" width="22.9" height="12" stroke="#E18727" stroke-width="2.0" fill="#fff"/><path d="M722.2 1331.9H745" stroke="#E18727" stroke-width="2.6"/><circle cx="733.6" cy="1299.8" r="3.2" fill="#E18727"/><circle cx="733.6" cy="1301.5" r="3.2" fill="#E18727"/><circle cx="733.6" cy="1303" r="3.2" fill="#E18727"/>
<path d="M803.5 1352.4V1357.4" stroke="#000" stroke-width="1.8"/>
<text transform="translate(813 1365.7) rotate(-60)" text-anchor="end" class="k" font-family="'Liberation Serif', 'Times New Roman', serif" font-size="17">Cytotoxic lymphocytes</text>
<text class="k" x="803.5" y="1104.9" text-anchor="middle" font-family="'Liberation Sans', Arial, sans-serif" font-size="16">ns</text>
<path d="M778.1 1278.1V1300.6M778.1 1319.1V1328.8" stroke="#BC3C29" stroke-width="2.8" fill="none"/><rect x="766.7" y="1300.6" width="22.9" height="18.5" stroke="#BC3C29" stroke-width="2.0" fill="#fff"/><path d="M766.7 1311.9H789.5" stroke="#BC3C29" stroke-width="2.6"/>
<path d="M803.5 1286.1V1303M803.5 1318.2V1331.9" stroke="#0072B5" stroke-width="2.8" fill="none"/><rect x="792.1" y="1303" width="22.9" height="15.2" stroke="#0072B5" stroke-width="2.0" fill="#fff"/><path d="M792.1 1311.9H815" stroke="#0072B5" stroke-width="2.6"/><circle cx="803.5" cy="1268.5" r="3.2" fill="#0072B5"/><circle cx="803.5" cy="1274.8" r="3.2" fill="#0072B5"/><circle cx="803.5" cy="1276.8" r="3.2" fill="#0072B5"/><circle cx="803.5" cy="1278.9" r="3.2" fill="#0072B5"/>
<path d="M829 1291V1302.2M829 1314.3V1326.4" stroke="#E18727" stroke-width="2.8" fill="none"/><rect x="817.5" y="1302.2" width="22.9" height="12.1" stroke="#E18727" stroke-width="2.0" fill="#fff"/><path d="M817.5 1307.8H840.4" stroke="#E18727" stroke-width="2.6"/><circle cx="829" cy="1285.4" r="3.2" fill="#E18727"/>
<path d="M898.9 1352.4V1357.4" stroke="#000" stroke-width="1.8"/>
<text transform="translate(908.4 1365.7) rotate(-60)" text-anchor="end" class="k" font-family="'Liberation Serif', 'Times New Roman', serif" font-size="17">B lineage</text>
<text x="898.9" y="1104.9" text-anchor="middle" font-family="'Liberation Sans', Arial, sans-serif" font-size="16">****</text>
<path d="M873.5 1283V1303M873.5 1318.6V1332.6" stroke="#BC3C29" stroke-width="2.8" fill="none"/><rect x="862" y="1303" width="22.9" height="15.6" stroke="#BC3C29" stroke-width="2.0" fill="#fff"/><path d="M862 1311.9H884.9" stroke="#BC3C29" stroke-width="2.6"/><circle cx="873.5" cy="1265.6" r="3.2" fill="#BC3C29"/><circle cx="873.5" cy="1272.8" r="3.2" fill="#BC3C29"/><circle cx="873.5" cy="1275.6" r="3.2" fill="#BC3C29"/><circle cx="873.5" cy="1278.5" r="3.2" fill="#BC3C29"/><circle cx="873.5" cy="1281.3" r="3.2" fill="#BC3C29"/>
<path d="M898.9 1267V1293.3M898.9 1313.3V1327.8" stroke="#0072B5" stroke-width="2.8" fill="none"/><rect x="887.5" y="1293.3" width="22.9" height="20" stroke="#0072B5" stroke-width="2.0" fill="#fff"/><path d="M887.5 1304.2H910.4" stroke="#0072B5" stroke-width="2.6"/><circle cx="898.9" cy="1257.2" r="3.2" fill="#0072B5"/><circle cx="898.9" cy="1259.6" r="3.2" fill="#0072B5"/><circle cx="898.9" cy="1262" r="3.2" fill="#0072B5"/><circle cx="898.9" cy="1264.4" r="3.2" fill="#0072B5"/>
<path d="M924.3 1288.5V1305.4M924.3 1319.8V1330.2" stroke="#E18727" stroke-width="2.8" fill="none"/><rect x="912.9" y="1305.4" width="22.9" height="14.4" stroke="#E18727" stroke-width="2.0" fill="#fff"/><path d="M912.9 1313.3H935.8" stroke="#E18727" stroke-width="2.6"/><circle cx="924.3" cy="1272.8" r="3.2" fill="#E18727"/><circle cx="924.3" cy="1275.5" r="3.2" fill="#E18727"/><circle cx="924.3" cy="1278.5" r="3.2" fill="#E18727"/><circle cx="924.3" cy="1282.5" r="3.2" fill="#E18727"/>
<path d="M994.3 1352.4V1357.4" stroke="#000" stroke-width="1.8"/>
<text transform="translate(1003.8 1365.7) rotate(-60)" text-anchor="end" class="k" font-family="'Liberation Serif', 'Times New Roman', serif" font-size="17">NK cells</text>
<text class="k" x="994.3" y="1104.9" text-anchor="middle" font-family="'Liberation Sans', Arial, sans-serif" font-size="16">ns</text>
<path d="M968.8 1327V1330.7M968.8 1336.7V1339.1" stroke="#BC3C29" stroke-width="2.8" fill="none"/><rect x="957.4" y="1330.7" width="22.9" height="6" stroke="#BC3C29" stroke-width="2.0" fill="#fff"/><path d="M957.4 1333.6H980.3" stroke="#BC3C29" stroke-width="2.6"/><circle cx="968.8" cy="1306.6" r="3.2" fill="#BC3C29"/><circle cx="968.8" cy="1315" r="3.2" fill="#BC3C29"/><circle cx="968.8" cy="1318" r="3.2" fill="#BC3C29"/><circle cx="968.8" cy="1322.3" r="3.2" fill="#BC3C29"/>
<path d="M994.3 1325V1329M994.3 1335.5V1337.9" stroke="#0072B5" stroke-width="2.8" fill="none"/><rect x="982.8" y="1329" width="22.9" height="6.5" stroke="#0072B5" stroke-width="2.0" fill="#fff"/><path d="M982.8 1331.9H1005.7" stroke="#0072B5" stroke-width="2.6"/><circle cx="994.3" cy="1304.7" r="3.2" fill="#0072B5"/><circle cx="994.3" cy="1307" r="3.2" fill="#0072B5"/><circle cx="994.3" cy="1310" r="3.2" fill="#0072B5"/><circle cx="994.3" cy="1313" r="3.2" fill="#0072B5"/><circle cx="994.3" cy="1316" r="3.2" fill="#0072B5"/><circle cx="994.3" cy="1318.5" r="3.2" fill="#0072B5"/><circle cx="994.3" cy="1321" r="3.2" fill="#0072B5"/>
<path d="M1019.7 1325.9V1330.7M1019.7 1336V1338.4" stroke="#E18727" stroke-width="2.8" fill="none"/><rect x="1008.3" y="1330.7" width="22.9" height="5.3" stroke="#E18727" stroke-width="2.0" fill="#fff"/><path d="M1008.3 1333.1H1031.2" stroke="#E18727" stroke-width="2.6"/>
<path d="M1089.7 1352.4V1357.4" stroke="#000" stroke-width="1.8"/>
<text transform="translate(1099.2 1365.7) rotate(-60)" text-anchor="end" class="k" font-family="'Liberation Serif', 'Times New Roman', serif" font-size="17">Monocytic lineage</text>
<text x="1089.7" y="1104.9" text-anchor="middle" font-family="'Liberation Sans', Arial, sans-serif" font-size="16">****</text>
<path d="M1064.2 1224.1V1254M1064.2 1275.7V1297.4" stroke="#BC3C29" stroke-width="2.8" fill="none"/><rect x="1052.8" y="1254" width="22.9" height="21.7" stroke="#BC3C29" stroke-width="2.0" fill="#fff"/><path d="M1052.8 1266.1H1075.7" stroke="#BC3C29" stroke-width="2.6"/>
<path d="M1089.7 1211.4V1241M1089.7 1266.8V1290.9" stroke="#0072B5" stroke-width="2.8" fill="none"/><rect x="1078.2" y="1241" width="22.9" height="25.8" stroke="#0072B5" stroke-width="2.0" fill="#fff"/><path d="M1078.2 1252.3H1101.1" stroke="#0072B5" stroke-width="2.6"/><circle cx="1089.7" cy="1202.4" r="3.2" fill="#0072B5"/>
<path d="M1115.1 1240V1259.6M1115.1 1274.8V1294.5" stroke="#E18727" stroke-width="2.8" fill="none"/><rect x="1103.6" y="1259.6" width="22.9" height="15.2" stroke="#E18727" stroke-width="2.0" fill="#fff"/><path d="M1103.6 1267.5H1126.5" stroke="#E18727" stroke-width="2.6"/><circle cx="1115.1" cy="1213.8" r="3.2" fill="#E18727"/><circle cx="1115.1" cy="1224.1" r="3.2" fill="#E18727"/><circle cx="1115.1" cy="1227" r="3.2" fill="#E18727"/><circle cx="1115.1" cy="1230" r="3.2" fill="#E18727"/><circle cx="1115.1" cy="1233.5" r="3.2" fill="#E18727"/><circle cx="1115.1" cy="1236.7" r="3.2" fill="#E18727"/><circle cx="1115.1" cy="1302.2" r="3.2" fill="#E18727"/>
<path d="M1185 1352.4V1357.4" stroke="#000" stroke-width="1.8"/>
<text transform="translate(1194.5 1365.7) rotate(-60)" text-anchor="end" class="k" font-family="'Liberation Serif', 'Times New Roman', serif" font-size="17">Myeloid dendritic cells</text>
<text x="1185" y="1104.9" text-anchor="middle" font-family="'Liberation Sans', Arial, sans-serif" font-size="16">****</text>
<path d="M1159.6 1296V1311.4M1159.6 1323.9V1334.3" stroke="#BC3C29" stroke-width="2.8" fill="none"/><rect x="1148.1" y="1311.4" width="22.9" height="12.5" stroke="#BC3C29" stroke-width="2.0" fill="#fff"/><path d="M1148.1 1319.1H1171" stroke="#BC3C29" stroke-width="2.6"/><circle cx="1159.6" cy="1290.2" r="3.2" fill="#BC3C29"/><circle cx="1159.6" cy="1292.5" r="3.2" fill="#BC3C29"/><circle cx="1159.6" cy="1294.5" r="3.2" fill="#BC3C29"/>
<path d="M1185 1282V1303.7M1185 1319.8V1334.3" stroke="#0072B5" stroke-width="2.8" fill="none"/><rect x="1173.6" y="1303.7" width="22.9" height="16.1" stroke="#0072B5" stroke-width="2.0" fill="#fff"/><path d="M1173.6 1313.3H1196.5" stroke="#0072B5" stroke-width="2.6"/><circle cx="1185" cy="1276.4" r="3.2" fill="#0072B5"/><circle cx="1185" cy="1278.2" r="3.2" fill="#0072B5"/><circle cx="1185" cy="1280.1" r="3.2" fill="#0072B5"/>
<path d="M1210.5 1298.1V1310.9M1210.5 1323.9V1332.6" stroke="#E18727" stroke-width="2.8" fill="none"/><rect x="1199" y="1310.9" width="22.9" height="13" stroke="#E18727" stroke-width="2.0" fill="#fff"/><path d="M1199 1318.2H1221.9" stroke="#E18727" stroke-width="2.6"/><circle cx="1210.5" cy="1283.7" r="3.2" fill="#E18727"/>
<path d="M1280.4 1352.4V1357.4" stroke="#000" stroke-width="1.8"/>
<text transform="translate(1289.9 1365.7) rotate(-60)" text-anchor="end" class="k" font-family="'Liberation Serif', 'Times New Roman', serif" font-size="17">Neutrophils</text>
<text x="1280.4" y="1104.9" text-anchor="middle" font-family="'Liberation Sans', Arial, sans-serif" font-size="16">**</text>
<path d="M1255 1285V1294M1255 1302.2V1310.2" stroke="#BC3C29" stroke-width="2.8" fill="none"/><rect x="1243.5" y="1294" width="22.9" height="8.2" stroke="#BC3C29" stroke-width="2.0" fill="#fff"/><path d="M1243.5 1298.9H1266.4" stroke="#BC3C29" stroke-width="2.6"/><circle cx="1255" cy="1243.4" r="3.2" fill="#BC3C29"/><circle cx="1255" cy="1267.5" r="3.2" fill="#BC3C29"/><circle cx="1255" cy="1270.5" r="3.2" fill="#BC3C29"/><circle cx="1255" cy="1273.5" r="3.2" fill="#BC3C29"/><circle cx="1255" cy="1276.5" r="3.2" fill="#BC3C29"/><circle cx="1255" cy="1279" r="3.2" fill="#BC3C29"/><circle cx="1255" cy="1281.3" r="3.2" fill="#BC3C29"/>
<path d="M1280.4 1274V1289.2M1280.4 1301.3V1310.2" stroke="#0072B5" stroke-width="2.8" fill="none"/><rect x="1268.9" y="1289.2" width="22.9" height="12.1" stroke="#0072B5" stroke-width="2.0" fill="#fff"/><path d="M1268.9 1294.5H1291.8" stroke="#0072B5" stroke-width="2.6"/><circle cx="1280.4" cy="1243.4" r="3.2" fill="#0072B5"/><circle cx="1280.4" cy="1251.6" r="3.2" fill="#0072B5"/><circle cx="1280.4" cy="1269.2" r="3.2" fill="#0072B5"/>
<path d="M1305.8 1281V1293.3M1305.8 1301.8V1308.5" stroke="#E18727" stroke-width="2.8" fill="none"/><rect x="1294.4" y="1293.3" width="22.9" height="8.5" stroke="#E18727" stroke-width="2.0" fill="#fff"/><path d="M1294.4 1297.7H1317.3" stroke="#E18727" stroke-width="2.6"/><circle cx="1305.8" cy="1272.8" r="3.2" fill="#E18727"/><circle cx="1305.8" cy="1275.8" r="3.2" fill="#E18727"/><circle cx="1305.8" cy="1278.9" r="3.2" fill="#E18727"/>
<path d="M1375.8 1352.4V1357.4" stroke="#000" stroke-width="1.8"/>
<text transform="translate(1385.3 1365.7) rotate(-60)" text-anchor="end" class="k" font-family="'Liberation Serif', 'Times New Roman', serif" font-size="17">Endothelial cells</text>
<text class="k" x="1375.8" y="1104.9" text-anchor="middle" font-family="'Liberation Sans', Arial, sans-serif" font-size="16">ns</text>
<path d="M1350.3 1257.2V1274.8M1350.3 1288.5V1306.1" stroke="#BC3C29" stroke-width="2.8" fill="none"/><rect x="1338.9" y="1274.8" width="22.9" height="13.7" stroke="#BC3C29" stroke-width="2.0" fill="#fff"/><path d="M1338.9 1279.6H1361.8" stroke="#BC3C29" stroke-width="2.6"/><circle cx="1350.3" cy="1237.2" r="3.2" fill="#BC3C29"/><circle cx="1350.3" cy="1243.4" r="3.2" fill="#BC3C29"/>
<path d="M1375.8 1250V1270.4M1375.8 1285.4V1302.2" stroke="#0072B5" stroke-width="2.8" fill="none"/><rect x="1364.3" y="1270.4" width="22.9" height="15" stroke="#0072B5" stroke-width="2.0" fill="#fff"/><path d="M1364.3 1278.9H1387.2" stroke="#0072B5" stroke-width="2.6"/><circle cx="1375.8" cy="1236.2" r="3.2" fill="#0072B5"/><circle cx="1375.8" cy="1239.5" r="3.2" fill="#0072B5"/><circle cx="1375.8" cy="1243" r="3.2" fill="#0072B5"/><circle cx="1375.8" cy="1246.3" r="3.2" fill="#0072B5"/><circle cx="1375.8" cy="1310.2" r="3.2" fill="#0072B5"/>
<path d="M1401.2 1253V1272.8M1401.2 1286.8V1301.8" stroke="#E18727" stroke-width="2.8" fill="none"/><rect x="1389.8" y="1272.8" width="22.9" height="14" stroke="#E18727" stroke-width="2.0" fill="#fff"/><path d="M1389.8 1279.6H1412.6" stroke="#E18727" stroke-width="2.6"/><circle cx="1401.2" cy="1242.7" r="3.2" fill="#E18727"/><circle cx="1401.2" cy="1249.2" r="3.2" fill="#E18727"/>
<path d="M1471.1 1352.4V1357.4" stroke="#000" stroke-width="1.8"/>
<text transform="translate(1480.6 1365.7) rotate(-60)" text-anchor="end" class="k" font-family="'Liberation Serif', 'Times New Roman', serif" font-size="17">Fibroblasts</text>
<text x="1471.1" y="1104.9" text-anchor="middle" font-family="'Liberation Sans', Arial, sans-serif" font-size="16">****</text>
<path d="M1445.7 1160.7V1204.9M1445.7 1242.7V1280.1" stroke="#BC3C29" stroke-width="2.8" fill="none"/><rect x="1434.3" y="1204.9" width="22.9" height="37.8" stroke="#BC3C29" stroke-width="2.0" fill="#fff"/><path d="M1434.3 1227.5H1457.1" stroke="#BC3C29" stroke-width="2.6"/>
<path d="M1471.1 1122.2V1171.1M1471.1 1213.1V1249.9" stroke="#0072B5" stroke-width="2.8" fill="none"/><rect x="1459.7" y="1171.1" width="22.9" height="42" stroke="#0072B5" stroke-width="2.0" fill="#fff"/><path d="M1459.7 1196.2H1482.6" stroke="#0072B5" stroke-width="2.6"/><circle cx="1471.1" cy="1104.1" r="3.2" fill="#0072B5"/>
<path d="M1496.6 1180.8V1219.3M1496.6 1249.9V1284.4" stroke="#E18727" stroke-width="2.8" fill="none"/><rect x="1485.1" y="1219.3" width="22.9" height="30.6" stroke="#E18727" stroke-width="2.0" fill="#fff"/><path d="M1485.1 1236.2H1508" stroke="#E18727" stroke-width="2.6"/><circle cx="1496.6" cy="1169.2" r="3.2" fill="#E18727"/><circle cx="1496.6" cy="1171" r="3.2" fill="#E18727"/><circle cx="1496.6" cy="1172.8" r="3.2" fill="#E18727"/>
<text x="9.3" y="1552.6" font-family="'Liberation Sans', Arial, sans-serif" font-weight="bold" font-size="26">F</text>
<text x="699.5" y="1564.5" class="k" font-family="'Liberation Serif', 'Times New Roman', serif" font-size="16.3">CGGA</text><path d="M776.7 1549.5V1553.5M776.7 1566.2V1570.4" stroke="#BC3C29" stroke-width="1.9"/><rect x="767.3000000000001" y="1553.5" width="18.7" height="12.7" stroke="#BC3C29" stroke-width="1.75" fill="#fff"/><path d="M767.3000000000001 1559.8H786.0" stroke="#BC3C29" stroke-width="1.5"/><text x="797.7" y="1564.5" class="k" font-family="'Liberation Serif', 'Times New Roman', serif" font-size="14">C1</text><path d="M834 1549.5V1553.5M834 1566.2V1570.4" stroke="#0072B5" stroke-width="1.9"/><rect x="824.6" y="1553.5" width="18.7" height="12.7" stroke="#0072B5" stroke-width="1.75" fill="#fff"/><path d="M824.6 1559.8H843.3" stroke="#0072B5" stroke-width="1.5"/><text x="855.3" y="1564.5" class="k" font-family="'Liberation Serif', 'Times New Roman', serif" font-size="14">C2</text><path d="M891.6 1549.5V1553.5M891.6 1566.2V1570.4" stroke="#E18727" stroke-width="1.9"/><rect x="882.2" y="1553.5" width="18.7" height="12.7" stroke="#E18727" stroke-width="1.75" fill="#fff"/><path d="M882.2 1559.8H900.9" stroke="#E18727" stroke-width="1.5"/><text x="912.4" y="1564.5" class="k" font-family="'Liberation Serif', 'Times New Roman', serif" font-size="14">C3</text>
<path d="M99.4 1596.6V1817.2H1528" stroke="#000" stroke-width="2.0" fill="none"/>
<path d="M94.60000000000001 1618.5H99.4" stroke="#000" stroke-width="1.8"/>
<text x="91.9" y="1624.5" text-anchor="end" class="k" font-family="'Liberation Serif', 'Times New Roman', serif" font-size="16.5">0.50</text>
<path d="M94.60000000000001 1668.6H99.4" stroke="#000" stroke-width="1.8"/>
<text x="91.9" y="1674.6" text-anchor="end" class="k" font-family="'Liberation Serif', 'Times New Roman', serif" font-size="16.5">0.25</text>
<path d="M94.60000000000001 1718.9H99.4" stroke="#000" stroke-width="1.8"/>
<text x="91.9" y="1724.9" text-anchor="end" class="k" font-family="'Liberation Serif', 'Times New Roman', serif" font-size="16.5">0.00</text>
<path d="M94.60000000000001 1769H99.4" stroke="#000" stroke-width="1.8"/>
<text x="91.9" y="1775" text-anchor="end" class="k" font-family="'Liberation Serif', 'Times New Roman', serif" font-size="16.5">&#8722;0.25</text>
<text transform="translate(44.9 1707.4) rotate(-90)" text-anchor="middle" class="k" font-family="'Liberation Serif', 'Times New Roman', serif" font-size="16.8">Score</text>
<path d="M130.1 1817.2V1822.2" stroke="#000" stroke-width="1.8"/>
<text transform="translate(139.6 1830.5) rotate(-60)" text-anchor="end" class="k" font-family="'Liberation Serif', 'Times New Roman', serif" font-size="17">Activated B cell</text>
<text x="130.1" y="1608" text-anchor="middle" font-family="'Liberation Sans', Arial, sans-serif" font-size="16">****</text>
<path d="M116.6 1712.8V1736.5M116.6 1754.6V1766.2" stroke="#BC3C29" stroke-width="2.8" fill="none"/><rect x="110.5" y="1736.5" width="12.2" height="18.1" stroke="#BC3C29" stroke-width="2.0" fill="#fff"/><path d="M110.5 1745.5H122.7" stroke="#BC3C29" stroke-width="2.6"/>
<path d="M130.1 1703.1V1728.5M130.1 1750.1V1779.7" stroke="#0072B5" stroke-width="2.8" fill="none"/><rect x="124" y="1728.5" width="12.2" height="21.6" stroke="#0072B5" stroke-width="2.0" fill="#fff"/><path d="M124 1740.7H136.2" stroke="#0072B5" stroke-width="2.6"/>
<path d="M143.6 1720.8V1739.9M143.6 1756.3V1774.3" stroke="#E18727" stroke-width="2.8" fill="none"/><rect x="137.5" y="1739.9" width="12.2" height="16.4" stroke="#E18727" stroke-width="2.0" fill="#fff"/><path d="M137.5 1748.4H149.7" stroke="#E18727" stroke-width="2.6"/><circle cx="143.6" cy="1710.3" r="3.2" fill="#E18727"/><circle cx="143.6" cy="1712.4" r="3.2" fill="#E18727"/><circle cx="143.6" cy="1714.5" r="3.2" fill="#E18727"/>
<path d="M180.8 1817.2V1822.2" stroke="#000" stroke-width="1.8"/>
<text transform="translate(190.3 1830.5) rotate(-60)" text-anchor="end" class="k" font-family="'Liberation Serif', 'Times New Roman', serif" font-size="17">Activated CD4 T cell</text>
<text x="180.8" y="1608" text-anchor="middle" font-family="'Liberation Sans', Arial, sans-serif" font-size="16">****</text>
<path d="M167.3 1676V1697M167.3 1719.1V1744.5" stroke="#BC3C29" stroke-width="2.8" fill="none"/><rect x="161.2" y="1697" width="12.2" height="22.1" stroke="#BC3C29" stroke-width="2.0" fill="#fff"/><path d="M161.2 1704.8H173.3" stroke="#BC3C29" stroke-width="2.6"/><circle cx="167.3" cy="1656.1" r="3.2" fill="#BC3C29"/>
<path d="M180.8 1672.7V1692M180.8 1709.4V1731.4" stroke="#0072B5" stroke-width="2.8" fill="none"/><rect x="174.7" y="1692" width="12.2" height="17.4" stroke="#0072B5" stroke-width="2.0" fill="#fff"/><path d="M174.7 1699.2H186.9" stroke="#0072B5" stroke-width="2.6"/><circle cx="180.8" cy="1738.7" r="3.2" fill="#0072B5"/>
<path d="M194.3 1679.4V1696.7M194.3 1720.1V1739.1" stroke="#E18727" stroke-width="2.8" fill="none"/><rect x="188.2" y="1696.7" width="12.2" height="23.4" stroke="#E18727" stroke-width="2.0" fill="#fff"/><path d="M188.2 1706.5H200.4" stroke="#E18727" stroke-width="2.6"/>
<path d="M231.4 1817.2V1822.2" stroke="#000" stroke-width="1.8"/>
<text transform="translate(240.9 1830.5) rotate(-60)" text-anchor="end" class="k" font-family="'Liberation Serif', 'Times New Roman', serif" font-size="17">Activated CD8 T cell</text>
<text x="231.4" y="1608" text-anchor="middle" font-family="'Liberation Sans', Arial, sans-serif" font-size="16">****</text>
<path d="M217.9 1663.7V1683.2M217.9 1699.2V1714" stroke="#BC3C29" stroke-width="2.8" fill="none"/><rect x="211.8" y="1683.2" width="12.2" height="16" stroke="#BC3C29" stroke-width="2.0" fill="#fff"/><path d="M211.8 1691.6H224" stroke="#BC3C29" stroke-width="2.6"/><circle cx="217.9" cy="1643.9" r="3.2" fill="#BC3C29"/><circle cx="217.9" cy="1646.5" r="3.2" fill="#BC3C29"/><circle cx="217.9" cy="1649.3" r="3.2" fill="#BC3C29"/>
<path d="M231.4 1643.4V1673M231.4 1695V1708.6" stroke="#0072B5" stroke-width="2.8" fill="none"/><rect x="225.4" y="1673" width="12.2" height="22" stroke="#0072B5" stroke-width="2.0" fill="#fff"/><path d="M225.4 1684.5H237.5" stroke="#0072B5" stroke-width="2.6"/><circle cx="231.4" cy="1635.4" r="3.2" fill="#0072B5"/>
<path d="M245 1667.9V1686.9M245 1700.4V1711.1" stroke="#E18727" stroke-width="2.8" fill="none"/><rect x="238.9" y="1686.9" width="12.2" height="13.5" stroke="#E18727" stroke-width="2.0" fill="#fff"/><path d="M238.9 1693.3H251" stroke="#E18727" stroke-width="2.6"/><circle cx="245" cy="1656.9" r="3.2" fill="#E18727"/><circle cx="245" cy="1659.5" r="3.2" fill="#E18727"/><circle cx="245" cy="1662" r="3.2" fill="#E18727"/><circle cx="245" cy="1665.4" r="3.2" fill="#E18727"/>
<path d="M282.1 1817.2V1822.2" stroke="#000" stroke-width="1.8"/>
<text transform="translate(291.6 1830.5) rotate(-60)" text-anchor="end" class="k" font-family="'Liberation Serif', 'Times New Roman', serif" font-size="17">Central memory CD4 T cell</text>
<text x="282.1" y="1608" text-anchor="middle" font-family="'Liberation Sans', Arial, sans-serif" font-size="16">****</text>
<path d="M268.6 1624.2V1633.7M268.6 1642.8V1652.7" stroke="#BC3C29" stroke-width="2.8" fill="none"/><rect x="262.5" y="1633.7" width="12.2" height="9.1" stroke="#BC3C29" stroke-width="2.0" fill="#fff"/><path d="M262.5 1637.4H274.7" stroke="#BC3C29" stroke-width="2.6"/>
<path d="M282.1 1616.8V1626.4M282.1 1636.6V1648.4" stroke="#0072B5" stroke-width="2.8" fill="none"/><rect x="276" y="1626.4" width="12.2" height="10.2" stroke="#0072B5" stroke-width="2.0" fill="#fff"/><path d="M276 1631.5H288.2" stroke="#0072B5" stroke-width="2.6"/><circle cx="282.1" cy="1659.8" r="3.2" fill="#0072B5"/>
<path d="M295.6 1630V1638.8M295.6 1645.9V1655.2" stroke="#E18727" stroke-width="2.8" fill="none"/><rect x="289.5" y="1638.8" width="12.2" height="7.1" stroke="#E18727" stroke-width="2.0" fill="#fff"/><path d="M289.5 1642.2H301.7" stroke="#E18727" stroke-width="2.6"/><circle cx="295.6" cy="1625.9" r="3.2" fill="#E18727"/>
<path d="M332.8 1817.2V1822.2" stroke="#000" stroke-width="1.8"/>
<text transform="translate(342.3 1830.5) rotate(-60)" text-anchor="end" class="k" font-family="'Liberation Serif', 'Times New Roman', serif" font-size="17">Central memory CD8 T cell</text>
<text x="332.8" y="1608" text-anchor="middle" font-family="'Liberation Sans', Arial, sans-serif" font-size="16">****</text>
<path d="M319.3 1656.9V1671M319.3 1682.3V1690.8" stroke="#BC3C29" stroke-width="2.8" fill="none"/><rect x="313.2" y="1671" width="12.2" height="11.3" stroke="#BC3C29" stroke-width="2.0" fill="#fff"/><path d="M313.2 1677.2H325.3" stroke="#BC3C29" stroke-width="2.6"/><circle cx="319.3" cy="1638.3" r="3.2" fill="#BC3C29"/><circle cx="319.3" cy="1650.1" r="3.2" fill="#BC3C29"/>
<path d="M332.8 1636.6V1658.1M332.8 1673.8V1692.5" stroke="#0072B5" stroke-width="2.8" fill="none"/><rect x="326.7" y="1658.1" width="12.2" height="15.7" stroke="#0072B5" stroke-width="2.0" fill="#fff"/><path d="M326.7 1665.9H338.9" stroke="#0072B5" stroke-width="2.6"/>
<path d="M346.3 1663V1675.5M346.3 1685.2V1693" stroke="#E18727" stroke-width="2.8" fill="none"/><rect x="340.2" y="1675.5" width="12.2" height="9.7" stroke="#E18727" stroke-width="2.0" fill="#fff"/><path d="M340.2 1679.8H352.4" stroke="#E18727" stroke-width="2.6"/><circle cx="346.3" cy="1654.4" r="3.2" fill="#E18727"/><circle cx="346.3" cy="1657" r="3.2" fill="#E18727"/><circle cx="346.3" cy="1659.4" r="3.2" fill="#E18727"/>
<path d="M383.5 1817.2V1822.2" stroke="#000" stroke-width="1.8"/>
<text transform="translate(393 1830.5) rotate(-60)" text-anchor="end" class="k" font-family="'Liberation Serif', 'Times New Roman', serif" font-size="17">Effector memeory CD4 T cell</text>
<text class="k" x="383.5" y="1608" text-anchor="middle" font-family="'Liberation Sans', Arial, sans-serif" font-size="16">ns</text>
<path d="M369.9 1657.8V1667.1M369.9 1677.2V1689.1" stroke="#BC3C29" stroke-width="2.8" fill="none"/><rect x="363.9" y="1667.1" width="12.2" height="10.1" stroke="#BC3C29" stroke-width="2.0" fill="#fff"/><path d="M363.9 1672.1H376" stroke="#BC3C29" stroke-width="2.6"/><circle cx="369.9" cy="1653" r="3.2" fill="#BC3C29"/>
<path d="M383.5 1657.8V1668.3M383.5 1678.9V1692" stroke="#0072B5" stroke-width="2.8" fill="none"/><rect x="377.4" y="1668.3" width="12.2" height="10.6" stroke="#0072B5" stroke-width="2.0" fill="#fff"/><path d="M377.4 1672.7H389.5" stroke="#0072B5" stroke-width="2.6"/><circle cx="383.5" cy="1696.4" r="3.2" fill="#0072B5"/>
<path d="M397 1659.1V1669.3M397 1680.6V1689.6" stroke="#E18727" stroke-width="2.8" fill="none"/><rect x="390.9" y="1669.3" width="12.2" height="11.3" stroke="#E18727" stroke-width="2.0" fill="#fff"/><path d="M390.9 1674.3H403" stroke="#E18727" stroke-width="2.6"/>
<path d="M434.1 1817.2V1822.2" stroke="#000" stroke-width="1.8"/>
<text transform="translate(443.6 1830.5) rotate(-60)" text-anchor="end" class="k" font-family="'Liberation Serif', 'Times New Roman', serif" font-size="17">Effector memeory CD8 T cell</text>
<text x="434.1" y="1608" text-anchor="middle" font-family="'Liberation Sans', Arial, sans-serif" font-size="16">****</text>
<path d="M420.6 1655.2V1677.2M420.6 1693.7V1716.7" stroke="#BC3C29" stroke-width="2.8" fill="none"/><rect x="414.5" y="1677.2" width="12.2" height="16.5" stroke="#BC3C29" stroke-width="2.0" fill="#fff"/><path d="M414.5 1685.2H426.7" stroke="#BC3C29" stroke-width="2.6"/>
<path d="M434.1 1646V1665.9M434.1 1680.6V1698.1" stroke="#0072B5" stroke-width="2.8" fill="none"/><rect x="428" y="1665.9" width="12.2" height="14.7" stroke="#0072B5" stroke-width="2.0" fill="#fff"/><path d="M428 1673H440.2" stroke="#0072B5" stroke-width="2.6"/><circle cx="434.1" cy="1642.2" r="3.2" fill="#0072B5"/><circle cx="434.1" cy="1710.3" r="3.2" fill="#0072B5"/>
<path d="M447.6 1664.5V1681.5M447.6 1696.7V1711.6" stroke="#E18727" stroke-width="2.8" fill="none"/><rect x="441.6" y="1681.5" width="12.2" height="15.2" stroke="#E18727" stroke-width="2.0" fill="#fff"/><path d="M441.6 1687.4H453.7" stroke="#E18727" stroke-width="2.6"/><circle cx="447.6" cy="1659.4" r="3.2" fill="#E18727"/>
<path d="M484.8 1817.2V1822.2" stroke="#000" stroke-width="1.8"/>
<text transform="translate(494.3 1830.5) rotate(-60)" text-anchor="end" class="k" font-family="'Liberation Serif', 'Times New Roman', serif" font-size="17">Gamma delta T cell</text>
<text x="484.8" y="1608" text-anchor="middle" font-family="'Liberation Sans', Arial, sans-serif" font-size="16">****</text>
<path d="M471.3 1647.6V1659.8M471.3 1673V1689.6" stroke="#BC3C29" stroke-width="2.8" fill="none"/><rect x="465.2" y="1659.8" width="12.2" height="13.2" stroke="#BC3C29" stroke-width="2.0" fill="#fff"/><path d="M465.2 1665.9H477.4" stroke="#BC3C29" stroke-width="2.6"/><circle cx="471.3" cy="1634.4" r="3.2" fill="#BC3C29"/>
<path d="M484.8 1638.3V1653M484.8 1664.5V1676" stroke="#0072B5" stroke-width="2.8" fill="none"/><rect x="478.7" y="1653" width="12.2" height="11.5" stroke="#0072B5" stroke-width="2.0" fill="#fff"/><path d="M478.7 1658.6H490.9" stroke="#0072B5" stroke-width="2.6"/><circle cx="484.8" cy="1632.7" r="3.2" fill="#0072B5"/><circle cx="484.8" cy="1681.5" r="3.2" fill="#0072B5"/>
<path d="M498.3 1646.7V1663.2M498.3 1676.7V1684.9" stroke="#E18727" stroke-width="2.8" fill="none"/><rect x="492.2" y="1663.2" width="12.2" height="13.5" stroke="#E18727" stroke-width="2.0" fill="#fff"/><path d="M492.2 1669.6H504.4" stroke="#E18727" stroke-width="2.6"/>
<path d="M535.5 1817.2V1822.2" stroke="#000" stroke-width="1.8"/>
<text transform="translate(545 1830.5) rotate(-60)" text-anchor="end" class="k" font-family="'Liberation Serif', 'Times New Roman', serif" font-size="17">Immature &#160;B cell</text>
<text x="535.5" y="1608" text-anchor="middle" font-family="'Liberation Sans', Arial, sans-serif" font-size="16">****</text>
<path d="M521.9 1675V1702.6M521.9 1722.1V1740.7" stroke="#BC3C29" stroke-width="2.8" fill="none"/><rect x="515.9" y="1702.6" width="12.2" height="19.5" stroke="#BC3C29" stroke-width="2.0" fill="#fff"/><path d="M515.9 1711.6H528" stroke="#BC3C29" stroke-width="2.6"/><circle cx="521.9" cy="1672.7" r="3.2" fill="#BC3C29"/>
<path d="M535.5 1667.1V1690.8M535.5 1712.3V1738.2" stroke="#0072B5" stroke-width="2.8" fill="none"/><rect x="529.4" y="1690.8" width="12.2" height="21.5" stroke="#0072B5" stroke-width="2.0" fill="#fff"/><path d="M529.4 1701.8H541.5" stroke="#0072B5" stroke-width="2.6"/>
<path d="M549 1673.8V1704.3M549 1729.2V1741.6" stroke="#E18727" stroke-width="2.8" fill="none"/><rect x="542.9" y="1704.3" width="12.2" height="24.9" stroke="#E18727" stroke-width="2.0" fill="#fff"/><path d="M542.9 1716.7H555.1" stroke="#E18727" stroke-width="2.6"/>
<path d="M586.1 1817.2V1822.2" stroke="#000" stroke-width="1.8"/>
<text transform="translate(595.6 1830.5) rotate(-60)" text-anchor="end" class="k" font-family="'Liberation Serif', 'Times New Roman', serif" font-size="17">Memory B cell</text>
<text x="586.1" y="1608" text-anchor="middle" font-family="'Liberation Sans', Arial, sans-serif" font-size="16">****</text>
<path d="M572.6 1673V1696.4M572.6 1713.3V1735.3" stroke="#BC3C29" stroke-width="2.8" fill="none"/><rect x="566.5" y="1696.4" width="12.2" height="16.9" stroke="#BC3C29" stroke-width="2.0" fill="#fff"/><path d="M566.5 1704.3H578.7" stroke="#BC3C29" stroke-width="2.6"/>
<path d="M586.1 1665.4V1688.2M586.1 1706.9V1730" stroke="#0072B5" stroke-width="2.8" fill="none"/><rect x="580" y="1688.2" width="12.2" height="18.7" stroke="#0072B5" stroke-width="2.0" fill="#fff"/><path d="M580 1698.4H592.2" stroke="#0072B5" stroke-width="2.6"/><circle cx="586.1" cy="1735.7" r="3.2" fill="#0072B5"/>
<path d="M599.6 1677.7V1694.2M599.6 1717.9V1735.3" stroke="#E18727" stroke-width="2.8" fill="none"/><rect x="593.6" y="1694.2" width="12.2" height="23.7" stroke="#E18727" stroke-width="2.0" fill="#fff"/><path d="M593.6 1708.6H605.7" stroke="#E18727" stroke-width="2.6"/>
<path d="M636.8 1817.2V1822.2" stroke="#000" stroke-width="1.8"/>
<text transform="translate(646.3 1830.5) rotate(-60)" text-anchor="end" class="k" font-family="'Liberation Serif', 'Times New Roman', serif" font-size="17">Regulatory T cell</text>
<text x="636.8" y="1608" text-anchor="middle" font-family="'Liberation Sans', Arial, sans-serif" font-size="16">****</text>
<path d="M623.3 1656.9V1682.8M623.3 1703.1V1726.9" stroke="#BC3C29" stroke-width="2.8" fill="none"/><rect x="617.2" y="1682.8" width="12.2" height="20.3" stroke="#BC3C29" stroke-width="2.0" fill="#fff"/><path d="M617.2 1693.7H629.4" stroke="#BC3C29" stroke-width="2.6"/><circle cx="623.3" cy="1651.3" r="3.2" fill="#BC3C29"/>
<path d="M636.8 1632.3V1661.1M636.8 1686.9V1718" stroke="#0072B5" stroke-width="2.8" fill="none"/><rect x="630.7" y="1661.1" width="12.2" height="25.8" stroke="#0072B5" stroke-width="2.0" fill="#fff"/><path d="M630.7 1674.7H642.9" stroke="#0072B5" stroke-width="2.6"/><circle cx="636.8" cy="1623" r="3.2" fill="#0072B5"/><circle cx="636.8" cy="1724.7" r="3.2" fill="#0072B5"/>
<path d="M650.3 1669.3V1689.9M650.3 1706V1720.8" stroke="#E18727" stroke-width="2.8" fill="none"/><rect x="644.2" y="1689.9" width="12.2" height="16.1" stroke="#E18727" stroke-width="2.0" fill="#fff"/><path d="M644.2 1696.7H656.4" stroke="#E18727" stroke-width="2.6"/><circle cx="650.3" cy="1648.9" r="3.2" fill="#E18727"/><circle cx="650.3" cy="1657.8" r="3.2" fill="#E18727"/><circle cx="650.3" cy="1660.3" r="3.2" fill="#E18727"/><circle cx="650.3" cy="1662.8" r="3.2" fill="#E18727"/>
<path d="M687.5 1817.2V1822.2" stroke="#000" stroke-width="1.8"/>
<text transform="translate(697 1830.5) rotate(-60)" text-anchor="end" class="k" font-family="'Liberation Serif', 'Times New Roman', serif" font-size="17">T follicular helper cell</text>
<text x="687.5" y="1608" text-anchor="middle" font-family="'Liberation Sans', Arial, sans-serif" font-size="16">****</text>
<path d="M674 1660V1675M674 1686.9V1697" stroke="#BC3C29" stroke-width="2.8" fill="none"/><rect x="667.9" y="1675" width="12.2" height="11.9" stroke="#BC3C29" stroke-width="2.0" fill="#fff"/><path d="M667.9 1681.1H680" stroke="#BC3C29" stroke-width="2.6"/><circle cx="674" cy="1656.9" r="3.2" fill="#BC3C29"/><circle cx="674" cy="1703.1" r="3.2" fill="#BC3C29"/>
<path d="M687.5 1650.6V1666.2M687.5 1679.4V1695" stroke="#0072B5" stroke-width="2.8" fill="none"/><rect x="681.4" y="1666.2" width="12.2" height="13.2" stroke="#0072B5" stroke-width="2.0" fill="#fff"/><path d="M681.4 1673H693.6" stroke="#0072B5" stroke-width="2.6"/><circle cx="687.5" cy="1699.2" r="3.2" fill="#0072B5"/>
<path d="M701 1665V1678.4M701 1689.9V1701.8" stroke="#E18727" stroke-width="2.8" fill="none"/><rect x="694.9" y="1678.4" width="12.2" height="11.5" stroke="#E18727" stroke-width="2.0" fill="#fff"/><path d="M694.9 1684.5H707.1" stroke="#E18727" stroke-width="2.6"/><circle cx="701" cy="1653.5" r="3.2" fill="#E18727"/><circle cx="701" cy="1662" r="3.2" fill="#E18727"/>
<path d="M738.1 1817.2V1822.2" stroke="#000" stroke-width="1.8"/>
<text transform="translate(747.6 1830.5) rotate(-60)" text-anchor="end" class="k" font-family="'Liberation Serif', 'Times New Roman', serif" font-size="17">Type 1 T helper cell</text>
<text x="738.1" y="1608" text-anchor="middle" font-family="'Liberation Sans', Arial, sans-serif" font-size="16">****</text>
<path d="M724.6 1676V1687.4M724.6 1697.6V1706" stroke="#BC3C29" stroke-width="2.8" fill="none"/><rect x="718.5" y="1687.4" width="12.2" height="10.2" stroke="#BC3C29" stroke-width="2.0" fill="#fff"/><path d="M718.5 1692.5H730.7" stroke="#BC3C29" stroke-width="2.6"/><circle cx="724.6" cy="1673.3" r="3.2" fill="#BC3C29"/><circle cx="724.6" cy="1713.3" r="3.2" fill="#BC3C29"/>
<path d="M738.1 1660.3V1676.7M738.1 1689.9V1705" stroke="#0072B5" stroke-width="2.8" fill="none"/><rect x="732.1" y="1676.7" width="12.2" height="13.2" stroke="#0072B5" stroke-width="2.0" fill="#fff"/><path d="M732.1 1683.5H744.2" stroke="#0072B5" stroke-width="2.6"/><circle cx="738.1" cy="1715.7" r="3.2" fill="#0072B5"/>
<path d="M751.7 1675V1691.3M751.7 1704.8V1716.2" stroke="#E18727" stroke-width="2.8" fill="none"/><rect x="745.6" y="1691.3" width="12.2" height="13.5" stroke="#E18727" stroke-width="2.0" fill="#fff"/><path d="M745.6 1698.4H757.7" stroke="#E18727" stroke-width="2.6"/>
<path d="M788.8 1817.2V1822.2" stroke="#000" stroke-width="1.8"/>
<text transform="translate(798.3 1830.5) rotate(-60)" text-anchor="end" class="k" font-family="'Liberation Serif', 'Times New Roman', serif" font-size="17">Type 17 T helper cell</text>
<text x="788.8" y="1608" text-anchor="middle" font-family="'Liberation Sans', Arial, sans-serif" font-size="16">****</text>
<path d="M775.3 1706.5V1715M775.3 1725.5V1738.7" stroke="#BC3C29" stroke-width="2.8" fill="none"/><rect x="769.2" y="1715" width="12.2" height="10.5" stroke="#BC3C29" stroke-width="2.0" fill="#fff"/><path d="M769.2 1719.6H781.4" stroke="#BC3C29" stroke-width="2.6"/>
<path d="M788.8 1699.2V1709.9M788.8 1719.1V1727" stroke="#0072B5" stroke-width="2.8" fill="none"/><rect x="782.7" y="1709.9" width="12.2" height="9.2" stroke="#0072B5" stroke-width="2.0" fill="#fff"/><path d="M782.7 1714.5H794.9" stroke="#0072B5" stroke-width="2.6"/><circle cx="788.8" cy="1734" r="3.2" fill="#0072B5"/><circle cx="788.8" cy="1736" r="3.2" fill="#0072B5"/><circle cx="788.8" cy="1738.2" r="3.2" fill="#0072B5"/>
<path d="M802.3 1706.5V1716.2M802.3 1725.5V1733.6" stroke="#E18727" stroke-width="2.8" fill="none"/><rect x="796.2" y="1716.2" width="12.2" height="9.3" stroke="#E18727" stroke-width="2.0" fill="#fff"/><path d="M796.2 1720.8H808.4" stroke="#E18727" stroke-width="2.6"/>
<path d="M839.5 1817.2V1822.2" stroke="#000" stroke-width="1.8"/>
<text transform="translate(849 1830.5) rotate(-60)" text-anchor="end" class="k" font-family="'Liberation Serif', 'Times New Roman', serif" font-size="17">Type 2 T helper cell</text>
<text class="k" x="839.5" y="1608" text-anchor="middle" font-family="'Liberation Sans', Arial, sans-serif" font-size="16">ns</text>
<path d="M826 1672V1687.9M826 1700.1V1716" stroke="#BC3C29" stroke-width="2.8" fill="none"/><rect x="819.9" y="1687.9" width="12.2" height="12.2" stroke="#BC3C29" stroke-width="2.0" fill="#fff"/><path d="M819.9 1693.7H832" stroke="#BC3C29" stroke-width="2.6"/><circle cx="826" cy="1668.3" r="3.2" fill="#BC3C29"/><circle cx="826" cy="1718.7" r="3.2" fill="#BC3C29"/><circle cx="826" cy="1721" r="3.2" fill="#BC3C29"/><circle cx="826" cy="1723.5" r="3.2" fill="#BC3C29"/><circle cx="826" cy="1726" r="3.2" fill="#BC3C29"/><circle cx="826" cy="1728.5" r="3.2" fill="#BC3C29"/>
<path d="M839.5 1675.5V1689.1M839.5 1701.8V1720.1" stroke="#0072B5" stroke-width="2.8" fill="none"/><rect x="833.4" y="1689.1" width="12.2" height="12.7" stroke="#0072B5" stroke-width="2.0" fill="#fff"/><path d="M833.4 1695.4H845.6" stroke="#0072B5" stroke-width="2.6"/>
<path d="M853 1675.5V1686.9M853 1703.1V1719.6" stroke="#E18727" stroke-width="2.8" fill="none"/><rect x="846.9" y="1686.9" width="12.2" height="16.2" stroke="#E18727" stroke-width="2.0" fill="#fff"/><path d="M846.9 1696.7H859.1" stroke="#E18727" stroke-width="2.6"/>
<path d="M890.2 1817.2V1822.2" stroke="#000" stroke-width="1.8"/>
<text transform="translate(899.7 1830.5) rotate(-60)" text-anchor="end" class="k" font-family="'Liberation Serif', 'Times New Roman', serif" font-size="17">Activated dendritic cell</text>
<text x="890.2" y="1608" text-anchor="middle" font-family="'Liberation Sans', Arial, sans-serif" font-size="16">****</text>
<path d="M876.6 1640.5V1655.7M876.6 1668.3V1686.2" stroke="#BC3C29" stroke-width="2.8" fill="none"/><rect x="870.6" y="1655.7" width="12.2" height="12.6" stroke="#BC3C29" stroke-width="2.0" fill="#fff"/><path d="M870.6 1662.5H882.7" stroke="#BC3C29" stroke-width="2.6"/><circle cx="876.6" cy="1634.9" r="3.2" fill="#BC3C29"/>
<path d="M890.2 1624.7V1642.8M890.2 1659.4V1680.6" stroke="#0072B5" stroke-width="2.8" fill="none"/><rect x="884.1" y="1642.8" width="12.2" height="16.6" stroke="#0072B5" stroke-width="2.0" fill="#fff"/><path d="M884.1 1653H896.2" stroke="#0072B5" stroke-width="2.6"/>
<path d="M903.7 1648.4V1661.1M903.7 1673V1684.9" stroke="#E18727" stroke-width="2.8" fill="none"/><rect x="897.6" y="1661.1" width="12.2" height="11.9" stroke="#E18727" stroke-width="2.0" fill="#fff"/><path d="M897.6 1667.9H909.7" stroke="#E18727" stroke-width="2.6"/><circle cx="903.7" cy="1633.7" r="3.2" fill="#E18727"/><circle cx="903.7" cy="1637" r="3.2" fill="#E18727"/><circle cx="903.7" cy="1640.8" r="3.2" fill="#E18727"/>
<path d="M940.8 1817.2V1822.2" stroke="#000" stroke-width="1.8"/>
<text transform="translate(950.3 1830.5) rotate(-60)" text-anchor="end" class="k" font-family="'Liberation Serif', 'Times New Roman', serif" font-size="17">CD56bright natural killer cell</text>
<text class="k" x="940.8" y="1608" text-anchor="middle" font-family="'Liberation Sans', Arial, sans-serif" font-size="16">ns</text>
<path d="M927.3 1659.4V1665.4M927.3 1672.1V1679" stroke="#BC3C29" stroke-width="2.8" fill="none"/><rect x="921.2" y="1665.4" width="12.2" height="6.7" stroke="#BC3C29" stroke-width="2.0" fill="#fff"/><path d="M921.2 1668.3H933.4" stroke="#BC3C29" stroke-width="2.6"/><circle cx="927.3" cy="1681.5" r="3.2" fill="#BC3C29"/><circle cx="927.3" cy="1684" r="3.2" fill="#BC3C29"/><circle cx="927.3" cy="1686.9" r="3.2" fill="#BC3C29"/>
<path d="M940.8 1655.7V1663.7M940.8 1671.6V1681.1" stroke="#0072B5" stroke-width="2.8" fill="none"/><rect x="934.7" y="1663.7" width="12.2" height="7.9" stroke="#0072B5" stroke-width="2.0" fill="#fff"/><path d="M934.7 1667.9H946.9" stroke="#0072B5" stroke-width="2.6"/>
<path d="M954.3 1658V1664.9M954.3 1673V1679" stroke="#E18727" stroke-width="2.8" fill="none"/><rect x="948.3" y="1664.9" width="12.2" height="8.1" stroke="#E18727" stroke-width="2.0" fill="#fff"/><path d="M948.3 1668.8H960.4" stroke="#E18727" stroke-width="2.6"/><circle cx="954.3" cy="1654.4" r="3.2" fill="#E18727"/><circle cx="954.3" cy="1685.7" r="3.2" fill="#E18727"/>
<path d="M991.5 1817.2V1822.2" stroke="#000" stroke-width="1.8"/>
<text transform="translate(1001 1830.5) rotate(-60)" text-anchor="end" class="k" font-family="'Liberation Serif', 'Times New Roman', serif" font-size="17">CD56dim natural killer cell</text>
<text x="991.5" y="1608" text-anchor="middle" font-family="'Liberation Sans', Arial, sans-serif" font-size="16">****</text>
<path d="M978 1636.1V1646.2M978 1656.9V1668" stroke="#BC3C29" stroke-width="2.8" fill="none"/><rect x="971.9" y="1646.2" width="12.2" height="10.7" stroke="#BC3C29" stroke-width="2.0" fill="#fff"/><path d="M971.9 1651H984.1" stroke="#BC3C29" stroke-width="2.6"/><circle cx="978" cy="1678.1" r="3.2" fill="#BC3C29"/><circle cx="978" cy="1681.5" r="3.2" fill="#BC3C29"/>
<path d="M991.5 1632.3V1642.2M991.5 1652.3V1664" stroke="#0072B5" stroke-width="2.8" fill="none"/><rect x="985.4" y="1642.2" width="12.2" height="10.1" stroke="#0072B5" stroke-width="2.0" fill="#fff"/><path d="M985.4 1645.9H997.6" stroke="#0072B5" stroke-width="2.6"/><circle cx="991.5" cy="1668.3" r="3.2" fill="#0072B5"/>
<path d="M1005 1637.1V1647.9M1005 1660.8V1676" stroke="#E18727" stroke-width="2.8" fill="none"/><rect x="998.9" y="1647.9" width="12.2" height="12.9" stroke="#E18727" stroke-width="2.0" fill="#fff"/><path d="M998.9 1654.4H1011.1" stroke="#E18727" stroke-width="2.6"/>
<path d="M1042.2 1817.2V1822.2" stroke="#000" stroke-width="1.8"/>
<text transform="translate(1051.7 1830.5) rotate(-60)" text-anchor="end" class="k" font-family="'Liberation Serif', 'Times New Roman', serif" font-size="17">Eosinophil</text>
<text x="1042.2" y="1608" text-anchor="middle" font-family="'Liberation Sans', Arial, sans-serif" font-size="16">***</text>
<path d="M1028.6 1711.6V1734M1028.6 1750.1V1766.2" stroke="#BC3C29" stroke-width="2.8" fill="none"/><rect x="1022.6" y="1734" width="12.2" height="16.1" stroke="#BC3C29" stroke-width="2.0" fill="#fff"/><path d="M1022.6 1743.3H1034.7" stroke="#BC3C29" stroke-width="2.6"/><circle cx="1028.6" cy="1699.8" r="3.2" fill="#BC3C29"/>
<path d="M1042.2 1699.2V1724.7M1042.2 1745.8V1772.9" stroke="#0072B5" stroke-width="2.8" fill="none"/><rect x="1036.1" y="1724.7" width="12.2" height="21.1" stroke="#0072B5" stroke-width="2.0" fill="#fff"/><path d="M1036.1 1738.2H1048.2" stroke="#0072B5" stroke-width="2.6"/>
<path d="M1055.7 1708.6V1731.4M1055.7 1749.2V1763.1" stroke="#E18727" stroke-width="2.8" fill="none"/><rect x="1049.6" y="1731.4" width="12.2" height="17.8" stroke="#E18727" stroke-width="2.0" fill="#fff"/><path d="M1049.6 1738.7H1061.8" stroke="#E18727" stroke-width="2.6"/>
<path d="M1092.8 1817.2V1822.2" stroke="#000" stroke-width="1.8"/>
<text transform="translate(1102.3 1830.5) rotate(-60)" text-anchor="end" class="k" font-family="'Liberation Serif', 'Times New Roman', serif" font-size="17">Immature dendritic cell</text>
<text x="1092.8" y="1608" text-anchor="middle" font-family="'Liberation Sans', Arial, sans-serif" font-size="16">****</text>
<path d="M1079.3 1640V1650.1M1079.3 1659.1V1668" stroke="#BC3C29" stroke-width="2.8" fill="none"/><rect x="1073.2" y="1650.1" width="12.2" height="9" stroke="#BC3C29" stroke-width="2.0" fill="#fff"/><path d="M1073.2 1654.4H1085.4" stroke="#BC3C29" stroke-width="2.6"/><circle cx="1079.3" cy="1673.8" r="3.2" fill="#BC3C29"/>
<path d="M1092.8 1632.3V1645.6M1092.8 1656.4V1668" stroke="#0072B5" stroke-width="2.8" fill="none"/><rect x="1086.7" y="1645.6" width="12.2" height="10.8" stroke="#0072B5" stroke-width="2.0" fill="#fff"/><path d="M1086.7 1651H1098.9" stroke="#0072B5" stroke-width="2.6"/><circle cx="1092.8" cy="1673" r="3.2" fill="#0072B5"/>
<path d="M1106.3 1638.8V1652.3M1106.3 1663.7V1668.8" stroke="#E18727" stroke-width="2.8" fill="none"/><rect x="1100.3" y="1652.3" width="12.2" height="11.4" stroke="#E18727" stroke-width="2.0" fill="#fff"/><path d="M1100.3 1658.1H1112.4" stroke="#E18727" stroke-width="2.6"/>
<path d="M1143.5 1817.2V1822.2" stroke="#000" stroke-width="1.8"/>
<text transform="translate(1153 1830.5) rotate(-60)" text-anchor="end" class="k" font-family="'Liberation Serif', 'Times New Roman', serif" font-size="17">Macrophage</text>
<text x="1143.5" y="1608" text-anchor="middle" font-family="'Liberation Sans', Arial, sans-serif" font-size="16">****</text>
<path d="M1130 1660V1678.4M1130 1692.5V1709.9" stroke="#BC3C29" stroke-width="2.8" fill="none"/><rect x="1123.9" y="1678.4" width="12.2" height="14.1" stroke="#BC3C29" stroke-width="2.0" fill="#fff"/><path d="M1123.9 1686.9H1136.1" stroke="#BC3C29" stroke-width="2.6"/><circle cx="1130" cy="1656.4" r="3.2" fill="#BC3C29"/>
<path d="M1143.5 1642.8V1665.9M1143.5 1685.7V1708.9" stroke="#0072B5" stroke-width="2.8" fill="none"/><rect x="1137.4" y="1665.9" width="12.2" height="19.8" stroke="#0072B5" stroke-width="2.0" fill="#fff"/><path d="M1137.4 1675.5H1149.6" stroke="#0072B5" stroke-width="2.6"/>
<path d="M1157 1656.4V1681.5M1157 1700.9V1714" stroke="#E18727" stroke-width="2.8" fill="none"/><rect x="1150.9" y="1681.5" width="12.2" height="19.4" stroke="#E18727" stroke-width="2.0" fill="#fff"/><path d="M1150.9 1690.8H1163.1" stroke="#E18727" stroke-width="2.6"/><circle cx="1157" cy="1647.6" r="3.2" fill="#E18727"/>
<path d="M1194.2 1817.2V1822.2" stroke="#000" stroke-width="1.8"/>
<text transform="translate(1203.7 1830.5) rotate(-60)" text-anchor="end" class="k" font-family="'Liberation Serif', 'Times New Roman', serif" font-size="17">Mast cell</text>
<text x="1194.2" y="1608" text-anchor="middle" font-family="'Liberation Sans', Arial, sans-serif" font-size="16">****</text>
<path d="M1180.7 1683.5V1704.8M1180.7 1724.1V1749.2" stroke="#BC3C29" stroke-width="2.8" fill="none"/><rect x="1174.6" y="1704.8" width="12.2" height="19.3" stroke="#BC3C29" stroke-width="2.0" fill="#fff"/><path d="M1174.6 1716.2H1186.7" stroke="#BC3C29" stroke-width="2.6"/><circle cx="1180.7" cy="1668.3" r="3.2" fill="#BC3C29"/><circle cx="1180.7" cy="1671" r="3.2" fill="#BC3C29"/><circle cx="1180.7" cy="1674" r="3.2" fill="#BC3C29"/><circle cx="1180.7" cy="1677.2" r="3.2" fill="#BC3C29"/>
<path d="M1194.2 1651.8V1684.5M1194.2 1709.9V1743" stroke="#0072B5" stroke-width="2.8" fill="none"/><rect x="1188.1" y="1684.5" width="12.2" height="25.4" stroke="#0072B5" stroke-width="2.0" fill="#fff"/><path d="M1188.1 1697H1200.3" stroke="#0072B5" stroke-width="2.6"/><circle cx="1194.2" cy="1748.4" r="3.2" fill="#0072B5"/>
<path d="M1207.7 1684V1711.1M1207.7 1730.9V1750.1" stroke="#E18727" stroke-width="2.8" fill="none"/><rect x="1201.6" y="1711.1" width="12.2" height="19.8" stroke="#E18727" stroke-width="2.0" fill="#fff"/><path d="M1201.6 1720.1H1213.8" stroke="#E18727" stroke-width="2.6"/><circle cx="1207.7" cy="1664.5" r="3.2" fill="#E18727"/><circle cx="1207.7" cy="1681.5" r="3.2" fill="#E18727"/><circle cx="1207.7" cy="1760.2" r="3.2" fill="#E18727"/>
<path d="M1244.8 1817.2V1822.2" stroke="#000" stroke-width="1.8"/>
<text transform="translate(1254.3 1830.5) rotate(-60)" text-anchor="end" class="k" font-family="'Liberation Serif', 'Times New Roman', serif" font-size="17">MDSC</text>
<text x="1244.8" y="1608" text-anchor="middle" font-family="'Liberation Sans', Arial, sans-serif" font-size="16">****</text>
<path d="M1231.3 1618.8V1653M1231.3 1684.9V1717.9" stroke="#BC3C29" stroke-width="2.8" fill="none"/><rect x="1225.2" y="1653" width="12.2" height="31.9" stroke="#BC3C29" stroke-width="2.0" fill="#fff"/><path d="M1225.2 1667.9H1237.4" stroke="#BC3C29" stroke-width="2.6"/>
<path d="M1244.8 1606.9V1632.3M1244.8 1658.6V1692.5" stroke="#0072B5" stroke-width="2.8" fill="none"/><rect x="1238.8" y="1632.3" width="12.2" height="26.3" stroke="#0072B5" stroke-width="2.0" fill="#fff"/><path d="M1238.8 1643.4H1250.9" stroke="#0072B5" stroke-width="2.6"/><circle cx="1244.8" cy="1700.1" r="3.2" fill="#0072B5"/><circle cx="1244.8" cy="1703" r="3.2" fill="#0072B5"/><circle cx="1244.8" cy="1706" r="3.2" fill="#0072B5"/><circle cx="1244.8" cy="1710.3" r="3.2" fill="#0072B5"/>
<path d="M1258.4 1625.2V1665.4M1258.4 1693.7V1715.3" stroke="#E18727" stroke-width="2.8" fill="none"/><rect x="1252.3" y="1665.4" width="12.2" height="28.3" stroke="#E18727" stroke-width="2.0" fill="#fff"/><path d="M1252.3 1678.1H1264.4" stroke="#E18727" stroke-width="2.6"/><circle cx="1258.4" cy="1614.6" r="3.2" fill="#E18727"/>
<path d="M1295.5 1817.2V1822.2" stroke="#000" stroke-width="1.8"/>
<text transform="translate(1305 1830.5) rotate(-60)" text-anchor="end" class="k" font-family="'Liberation Serif', 'Times New Roman', serif" font-size="17">Monocyte</text>
<text x="1295.5" y="1608" text-anchor="middle" font-family="'Liberation Sans', Arial, sans-serif" font-size="16">*</text>
<path d="M1282 1640V1643.9M1282 1648.9V1652" stroke="#BC3C29" stroke-width="2.8" fill="none"/><rect x="1275.9" y="1643.9" width="12.2" height="5" stroke="#BC3C29" stroke-width="2.0" fill="#fff"/><path d="M1275.9 1646.2H1288.1" stroke="#BC3C29" stroke-width="2.6"/><circle cx="1282" cy="1634.4" r="3.2" fill="#BC3C29"/><circle cx="1282" cy="1636.5" r="3.2" fill="#BC3C29"/><circle cx="1282" cy="1638.3" r="3.2" fill="#BC3C29"/><circle cx="1282" cy="1654.4" r="3.2" fill="#BC3C29"/><circle cx="1282" cy="1657" r="3.2" fill="#BC3C29"/><circle cx="1282" cy="1659" r="3.2" fill="#BC3C29"/><circle cx="1282" cy="1661.1" r="3.2" fill="#BC3C29"/>
<path d="M1295.5 1634V1641.7M1295.5 1647.6V1655" stroke="#0072B5" stroke-width="2.8" fill="none"/><rect x="1289.4" y="1641.7" width="12.2" height="5.9" stroke="#0072B5" stroke-width="2.0" fill="#fff"/><path d="M1289.4 1644.5H1301.6" stroke="#0072B5" stroke-width="2.6"/><circle cx="1295.5" cy="1625.9" r="3.2" fill="#0072B5"/><circle cx="1295.5" cy="1628" r="3.2" fill="#0072B5"/><circle cx="1295.5" cy="1630.7" r="3.2" fill="#0072B5"/><circle cx="1295.5" cy="1657.5" r="3.2" fill="#0072B5"/><circle cx="1295.5" cy="1659.8" r="3.2" fill="#0072B5"/>
<path d="M1309 1638.3V1642.2M1309 1649.3V1656.9" stroke="#E18727" stroke-width="2.8" fill="none"/><rect x="1302.9" y="1642.2" width="12.2" height="7.1" stroke="#E18727" stroke-width="2.0" fill="#fff"/><path d="M1302.9 1645.6H1315.1" stroke="#E18727" stroke-width="2.6"/>
<path d="M1346.2 1817.2V1822.2" stroke="#000" stroke-width="1.8"/>
<text transform="translate(1355.7 1830.5) rotate(-60)" text-anchor="end" class="k" font-family="'Liberation Serif', 'Times New Roman', serif" font-size="17">Natural killer cell</text>
<text x="1346.2" y="1608" text-anchor="middle" font-family="'Liberation Sans', Arial, sans-serif" font-size="16">****</text>
<path d="M1332.7 1653V1665.9M1332.7 1676V1688.2" stroke="#BC3C29" stroke-width="2.8" fill="none"/><rect x="1326.6" y="1665.9" width="12.2" height="10.1" stroke="#BC3C29" stroke-width="2.0" fill="#fff"/><path d="M1326.6 1671H1338.7" stroke="#BC3C29" stroke-width="2.6"/>
<path d="M1346.2 1644.5V1657.8M1346.2 1670.5V1686" stroke="#0072B5" stroke-width="2.8" fill="none"/><rect x="1340.1" y="1657.8" width="12.2" height="12.7" stroke="#0072B5" stroke-width="2.0" fill="#fff"/><path d="M1340.1 1664.2H1352.3" stroke="#0072B5" stroke-width="2.6"/><circle cx="1346.2" cy="1689.6" r="3.2" fill="#0072B5"/>
<path d="M1359.7 1651.8V1666.6M1359.7 1682.3V1694.7" stroke="#E18727" stroke-width="2.8" fill="none"/><rect x="1353.6" y="1666.6" width="12.2" height="15.7" stroke="#E18727" stroke-width="2.0" fill="#fff"/><path d="M1353.6 1678.1H1365.8" stroke="#E18727" stroke-width="2.6"/>
<path d="M1396.8 1817.2V1822.2" stroke="#000" stroke-width="1.8"/>
<text transform="translate(1406.3 1830.5) rotate(-60)" text-anchor="end" class="k" font-family="'Liberation Serif', 'Times New Roman', serif" font-size="17">Natural killer T cell</text>
<text x="1396.8" y="1608" text-anchor="middle" font-family="'Liberation Sans', Arial, sans-serif" font-size="16">****</text>
<path d="M1383.3 1669.8V1681.7M1383.3 1692.9V1708" stroke="#BC3C29" stroke-width="2.8" fill="none"/><rect x="1377.3" y="1681.7" width="12.2" height="11.2" stroke="#BC3C29" stroke-width="2.0" fill="#fff"/><path d="M1377.3 1687.2H1389.4" stroke="#BC3C29" stroke-width="2.6"/><circle cx="1383.3" cy="1710.7" r="3.2" fill="#BC3C29"/>
<path d="M1396.8 1661.8V1673.2M1396.8 1682.7V1695" stroke="#0072B5" stroke-width="2.8" fill="none"/><rect x="1390.8" y="1673.2" width="12.2" height="9.5" stroke="#0072B5" stroke-width="2.0" fill="#fff"/><path d="M1390.8 1677.7H1402.9" stroke="#0072B5" stroke-width="2.6"/><circle cx="1396.8" cy="1655.4" r="3.2" fill="#0072B5"/><circle cx="1396.8" cy="1696.7" r="3.2" fill="#0072B5"/><circle cx="1396.8" cy="1699.2" r="3.2" fill="#0072B5"/>
<path d="M1410.4 1672V1687.8M1410.4 1699.9V1712.6" stroke="#E18727" stroke-width="2.8" fill="none"/><rect x="1404.3" y="1687.8" width="12.2" height="12.1" stroke="#E18727" stroke-width="2.0" fill="#fff"/><path d="M1404.3 1694.8H1416.4" stroke="#E18727" stroke-width="2.6"/><circle cx="1410.4" cy="1667.7" r="3.2" fill="#E18727"/>
<path d="M1447.5 1817.2V1822.2" stroke="#000" stroke-width="1.8"/>
<text transform="translate(1457 1830.5) rotate(-60)" text-anchor="end" class="k" font-family="'Liberation Serif', 'Times New Roman', serif" font-size="17">Neutrophil</text>
<text x="1447.5" y="1608" text-anchor="middle" font-family="'Liberation Sans', Arial, sans-serif" font-size="16">****</text>
<path d="M1434 1748.8V1770.4M1434 1786.9V1806.6" stroke="#BC3C29" stroke-width="2.8" fill="none"/><rect x="1427.9" y="1770.4" width="12.2" height="16.5" stroke="#BC3C29" stroke-width="2.0" fill="#fff"/><path d="M1427.9 1779.3H1440.1" stroke="#BC3C29" stroke-width="2.6"/><circle cx="1434" cy="1684" r="3.2" fill="#BC3C29"/><circle cx="1434" cy="1705.6" r="3.2" fill="#BC3C29"/><circle cx="1434" cy="1713.9" r="3.2" fill="#BC3C29"/><circle cx="1434" cy="1721.5" r="3.2" fill="#BC3C29"/><circle cx="1434" cy="1743.7" r="3.2" fill="#BC3C29"/>
<path d="M1447.5 1724.7V1755.1M1447.5 1776.1V1797.1" stroke="#0072B5" stroke-width="2.8" fill="none"/><rect x="1441.4" y="1755.1" width="12.2" height="21" stroke="#0072B5" stroke-width="2.0" fill="#fff"/><path d="M1441.4 1767.2H1453.6" stroke="#0072B5" stroke-width="2.6"/><circle cx="1447.5" cy="1683.4" r="3.2" fill="#0072B5"/><circle cx="1447.5" cy="1713.9" r="3.2" fill="#0072B5"/><circle cx="1447.5" cy="1720.2" r="3.2" fill="#0072B5"/>
<path d="M1461 1743V1769.1M1461 1786.9V1801.5" stroke="#E18727" stroke-width="2.8" fill="none"/><rect x="1455" y="1769.1" width="12.2" height="17.8" stroke="#E18727" stroke-width="2.0" fill="#fff"/><path d="M1455 1779.9H1467.1" stroke="#E18727" stroke-width="2.6"/><circle cx="1461" cy="1722.1" r="3.2" fill="#E18727"/><circle cx="1461" cy="1741.2" r="3.2" fill="#E18727"/>
<path d="M1498.2 1817.2V1822.2" stroke="#000" stroke-width="1.8"/>
<text transform="translate(1507.7 1830.5) rotate(-60)" text-anchor="end" class="k" font-family="'Liberation Serif', 'Times New Roman', serif" font-size="17">Plasmacytoid dendritic cell</text>
<text x="1498.2" y="1608" text-anchor="middle" font-family="'Liberation Sans', Arial, sans-serif" font-size="16">****</text>
<path d="M1484.7 1633.8V1642.1M1484.7 1648.7V1657.3" stroke="#BC3C29" stroke-width="2.8" fill="none"/><rect x="1478.6" y="1642.1" width="12.2" height="6.6" stroke="#BC3C29" stroke-width="2.0" fill="#fff"/><path d="M1478.6 1644.6H1490.8" stroke="#BC3C29" stroke-width="2.6"/><circle cx="1484.7" cy="1665.2" r="3.2" fill="#BC3C29"/>
<path d="M1498.2 1628.7V1638M1498.2 1646.5V1655" stroke="#0072B5" stroke-width="2.8" fill="none"/><rect x="1492.1" y="1638" width="12.2" height="8.5" stroke="#0072B5" stroke-width="2.0" fill="#fff"/><path d="M1492.1 1642.7H1504.3" stroke="#0072B5" stroke-width="2.6"/><circle cx="1498.2" cy="1621.5" r="3.2" fill="#0072B5"/><circle cx="1498.2" cy="1660.9" r="3.2" fill="#0072B5"/>
<path d="M1511.7 1640V1646.5M1511.7 1652.2V1658" stroke="#E18727" stroke-width="2.8" fill="none"/><rect x="1505.6" y="1646.5" width="12.2" height="5.7" stroke="#E18727" stroke-width="2.0" fill="#fff"/><path d="M1505.6 1649.1H1517.8" stroke="#E18727" stroke-width="2.6"/><circle cx="1511.7" cy="1636.4" r="3.2" fill="#E18727"/>
</svg></body></html>
